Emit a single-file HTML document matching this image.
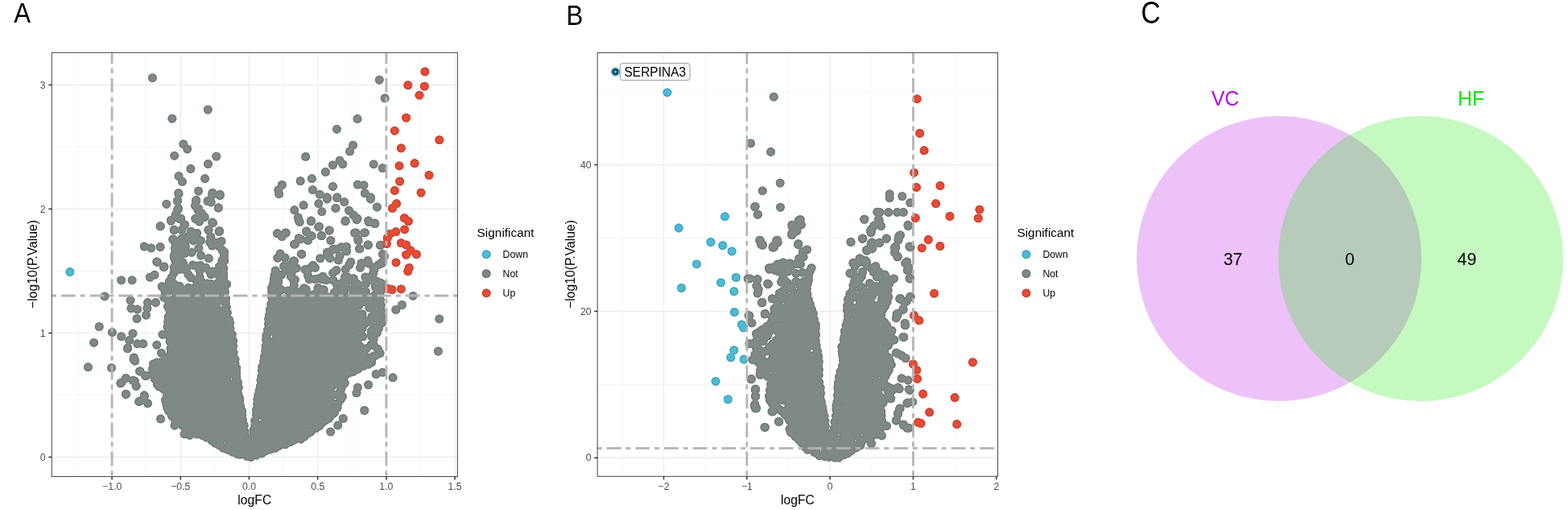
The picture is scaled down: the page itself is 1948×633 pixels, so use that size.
<!DOCTYPE html><html><head><meta charset="utf-8"><style>html,body{margin:0;padding:0;background:#fff;}svg{display:block;}</style></head><body>
<svg width="1948" height="633" viewBox="0 0 1948 633" font-family='"Liberation Sans", Arial, sans-serif'>
<defs><filter id="ring" x="0" y="0" width="1" height="1" color-interpolation-filters="sRGB"><feMorphology in="SourceAlpha" operator="erode" radius="0.9" result="e"/><feComponentTransfer in="SourceGraphic" result="d"><feFuncR type="linear" slope="0.87"/><feFuncG type="linear" slope="0.87"/><feFuncB type="linear" slope="0.87"/></feComponentTransfer><feComposite in="d" in2="e" operator="out" result="r"/><feMerge><feMergeNode in="SourceGraphic"/><feMergeNode in="r"/></feMerge></filter></defs>
<rect width="1948" height="633" fill="#fff"/>
<line x1="96.5" y1="65.3" x2="96.5" y2="591.5" stroke="#f0f0f0" stroke-width="0.7"/><line x1="181.7" y1="65.3" x2="181.7" y2="591.5" stroke="#f0f0f0" stroke-width="0.7"/><line x1="266.9" y1="65.3" x2="266.9" y2="591.5" stroke="#f0f0f0" stroke-width="0.7"/><line x1="352.1" y1="65.3" x2="352.1" y2="591.5" stroke="#f0f0f0" stroke-width="0.7"/><line x1="437.3" y1="65.3" x2="437.3" y2="591.5" stroke="#f0f0f0" stroke-width="0.7"/><line x1="522.5" y1="65.3" x2="522.5" y2="591.5" stroke="#f0f0f0" stroke-width="0.7"/><line x1="64.3" y1="490.4" x2="568.4" y2="490.4" stroke="#f0f0f0" stroke-width="0.7"/><line x1="64.3" y1="336.4" x2="568.4" y2="336.4" stroke="#f0f0f0" stroke-width="0.7"/><line x1="64.3" y1="182.4" x2="568.4" y2="182.4" stroke="#f0f0f0" stroke-width="0.7"/><line x1="139.1" y1="65.3" x2="139.1" y2="591.5" stroke="#ebebeb" stroke-width="1.2"/><line x1="224.3" y1="65.3" x2="224.3" y2="591.5" stroke="#ebebeb" stroke-width="1.2"/><line x1="309.5" y1="65.3" x2="309.5" y2="591.5" stroke="#ebebeb" stroke-width="1.2"/><line x1="394.7" y1="65.3" x2="394.7" y2="591.5" stroke="#ebebeb" stroke-width="1.2"/><line x1="479.9" y1="65.3" x2="479.9" y2="591.5" stroke="#ebebeb" stroke-width="1.2"/><line x1="565.1" y1="65.3" x2="565.1" y2="591.5" stroke="#ebebeb" stroke-width="1.2"/><line x1="64.3" y1="567.4" x2="568.4" y2="567.4" stroke="#ebebeb" stroke-width="1.2"/><line x1="64.3" y1="413.4" x2="568.4" y2="413.4" stroke="#ebebeb" stroke-width="1.2"/><line x1="64.3" y1="259.4" x2="568.4" y2="259.4" stroke="#ebebeb" stroke-width="1.2"/><line x1="64.3" y1="105.4" x2="568.4" y2="105.4" stroke="#ebebeb" stroke-width="1.2"/>
<g filter="url(#ring)">
<g fill="#7f8985"><path d="M213.8 360.4 L213.6 373.5 L217.3 382.3 L217.7 383.3 L217.9 384.4 L218.1 385.5 L218.2 386.6 L218.2 387.7 L218 388.8 L215.6 403.9 L219.4 424.5 L219.5 425.6 L219.6 426.7 L219.6 438.1 L219.5 439.3 L219.3 440.6 L219 441.8 L218.6 443 L218 444.1 L217.3 445.1 L216.5 446.1 L215.7 447 L212.8 449.6 L212.4 481 L212.8 481.4 L213.5 482.4 L214.2 483.4 L214.7 484.5 L215.1 485.7 L215.4 486.9 L215.6 488.1 L215.6 489.3 L215.5 490.6 L215.3 491.8 L215 492.9 L213.3 497.9 L214.8 505.5 L220.7 513.6 L229.5 520.6 L230.6 521.7 L234.6 525.7 L242.8 528.9 L242.9 528.9 L256.3 534.2 L257.2 534.6 L258.1 535.1 L271.5 543.2 L284.1 550.7 L296.1 555.6 L309.3 559.4 L320.8 555.6 L333.8 550.4 L334.1 550.3 L355.6 542.3 L356 542.1 L370.4 537.3 L382.3 529 L392.9 521.1 L403.4 513.2 L408.9 508.6 L413 498.1 L413.6 496.9 L414.2 495.8 L416.7 492.2 L415.3 486.6 L415 485.5 L414.9 484.4 L414.9 483.3 L415 482.2 L415.2 481.1 L415.5 480 L415.9 478.9 L416.4 477.9 L417 476.9 L417.7 476 L418.4 475.2 L418.6 475 L418.5 474.9 L418.1 473.8 L417.8 472.6 L417.7 471.4 L417.6 470.2 L417.7 469 L417.8 467.9 L418.2 466.7 L418.6 465.6 L419.1 464.5 L419.7 463.5 L420.5 462.5 L421.3 461.7 L422.2 460.9 L423.2 460.2 L424.2 459.6 L434.9 454.2 L445.6 448.8 L446 448.6 L446 380 L465.3 380 L463.6 370.7 L463.4 369.6 L463.4 368.4 L463.5 367.3 L463.5 367.2 L460 368 L440 362 L420 370 L400 362 L380 372 L360 365 L344.9 368 L344.7 376.2 L344.5 377.9 L342.1 393.1 L338.4 417.7 L337.7 430.6 L337.6 431.8 L333.6 458.6 L329.6 485.3 L325.6 517.4 L325.6 517.6 L321.5 545.7 L321.2 546.9 L320.9 548 L320.5 549.1 L319.9 550.2 L319.2 551.1 L318.5 552.1 L317.7 552.9 L316.7 553.6 L315.8 554.3 L314.7 554.9 L313.6 555.3 L312.5 555.6 L311.3 555.9 L310.2 556 L309 556 L307.8 555.9 L306.7 555.6 L305.5 555.3 L304.4 554.8 L303.4 554.3 L302.4 553.6 L301.5 552.9 L300.7 552 L299.9 551.1 L299.3 550.1 L298.7 549.1 L298.3 548 L297.9 546.9 L297.7 545.7 L293.7 517.7 L288.4 485.7 L288.3 484.9 L285.7 458.1 L282.1 428.6 L278.2 403.1 L274.2 383.4 L274.1 382.6 L270.4 355.9 L270 356 L250 350 L230 358 L216.5 355.3 L213.8 360.4Z" fill-rule="evenodd"/></g><g fill="#7f8985"><circle cx="218" cy="302.3" r="5.4"/><circle cx="217.6" cy="307.5" r="5.4"/><circle cx="217.3" cy="315" r="5.4"/><circle cx="218.1" cy="324.5" r="5.4"/><circle cx="216.2" cy="332" r="5.4"/><circle cx="216" cy="338.6" r="5.4"/><circle cx="213.2" cy="344.4" r="5.4"/><circle cx="210.2" cy="349.5" r="5.4"/><circle cx="207" cy="355.9" r="5.4"/><circle cx="205" cy="362.1" r="5.4"/><circle cx="203.5" cy="369" r="5.4"/><circle cx="208.5" cy="380.3" r="5.4"/><circle cx="211.1" cy="386.8" r="5.4"/><circle cx="209.1" cy="393.7" r="5.4"/><circle cx="208.7" cy="399.4" r="5.4"/><circle cx="208" cy="405.9" r="5.4"/><circle cx="209.3" cy="413" r="5.4"/><circle cx="210.6" cy="418.3" r="5.4"/><circle cx="211" cy="424" r="5.4"/><circle cx="212" cy="432.5" r="5.4"/><circle cx="212.6" cy="437.3" r="5.4"/><circle cx="209.4" cy="443.1" r="5.4"/><circle cx="206.5" cy="446" r="5.4"/><circle cx="200.3" cy="449.4" r="5.4"/><circle cx="194.9" cy="450" r="5.4"/><circle cx="190.5" cy="451.8" r="5.4"/><circle cx="189.6" cy="457.7" r="5.4"/><circle cx="189.8" cy="463.1" r="5.4"/><circle cx="192.5" cy="470.4" r="5.4"/><circle cx="195.3" cy="476.8" r="5.4"/><circle cx="197.7" cy="479.9" r="5.4"/><circle cx="202.9" cy="482.6" r="5.4"/><circle cx="206.4" cy="485.3" r="5.4"/><circle cx="207.5" cy="490.5" r="5.4"/><circle cx="205.4" cy="496.5" r="5.4"/><circle cx="206.9" cy="501.7" r="5.4"/><circle cx="207.8" cy="506" r="5.4"/><circle cx="209.5" cy="510.3" r="5.4"/><circle cx="213.6" cy="516.5" r="5.4"/><circle cx="217.5" cy="520.8" r="5.4"/><circle cx="221.3" cy="524.5" r="5.4"/><circle cx="226.3" cy="527.8" r="5.4"/><circle cx="230.3" cy="532.3" r="5.4"/><circle cx="239" cy="535.1" r="5.4"/><circle cx="245.1" cy="538.9" r="5.4"/><circle cx="251.8" cy="540.4" r="5.4"/><circle cx="256.6" cy="542.1" r="5.4"/><circle cx="263" cy="546.8" r="5.4"/><circle cx="267.3" cy="550" r="5.4"/><circle cx="272.7" cy="552.6" r="5.4"/><circle cx="277.1" cy="556" r="5.4"/><circle cx="282.4" cy="557.9" r="5.4"/><circle cx="288.9" cy="561" r="5.4"/><circle cx="295.1" cy="563.7" r="5.4"/><circle cx="298.4" cy="564.1" r="5.4"/><circle cx="307" cy="566.4" r="5.4"/><circle cx="311.8" cy="567.3" r="5.4"/><circle cx="318.6" cy="565" r="5.4"/><circle cx="325.4" cy="562.8" r="5.4"/><circle cx="330.7" cy="559.4" r="5.4"/><circle cx="335.7" cy="557.7" r="5.4"/><circle cx="341.9" cy="556.2" r="5.4"/><circle cx="346.9" cy="553.3" r="5.4"/><circle cx="354.4" cy="551.7" r="5.4"/><circle cx="360.8" cy="548.5" r="5.4"/><circle cx="365.3" cy="546.2" r="5.4"/><circle cx="373.6" cy="545" r="5.4"/><circle cx="378.1" cy="541.9" r="5.4"/><circle cx="382.8" cy="537.6" r="5.4"/><circle cx="386.2" cy="535.9" r="5.4"/><circle cx="392.5" cy="531.4" r="5.4"/><circle cx="396.7" cy="528.7" r="5.4"/><circle cx="400.1" cy="524.8" r="5.4"/><circle cx="404.4" cy="521.8" r="5.4"/><circle cx="408.8" cy="519.2" r="5.4"/><circle cx="411.2" cy="515.8" r="5.4"/><circle cx="415.6" cy="511.6" r="5.4"/><circle cx="419.1" cy="506.1" r="5.4"/><circle cx="420.1" cy="500.3" r="5.4"/><circle cx="423.4" cy="495.6" r="5.4"/><circle cx="425.4" cy="492.1" r="5.4"/><circle cx="422.9" cy="485.7" r="5.4"/><circle cx="423.9" cy="482.2" r="5.4"/><circle cx="428.1" cy="475.3" r="5.4"/><circle cx="426.1" cy="470.6" r="5.4"/><circle cx="429.7" cy="465.2" r="5.4"/><circle cx="434.8" cy="462.3" r="5.4"/><circle cx="439" cy="461.3" r="5.4"/><circle cx="445" cy="458" r="5.4"/><circle cx="451.5" cy="454.2" r="5.4"/><circle cx="457.7" cy="452.1" r="5.4"/><circle cx="461.7" cy="449.8" r="5.4"/><circle cx="462.9" cy="443.9" r="5.4"/><circle cx="467.2" cy="440.6" r="5.4"/><circle cx="472.1" cy="438.4" r="5.4"/><circle cx="469.4" cy="433.2" r="5.4"/><circle cx="464.4" cy="428.6" r="5.4"/><circle cx="464.2" cy="420.9" r="5.4"/><circle cx="468.3" cy="413.2" r="5.4"/><circle cx="470.5" cy="407.4" r="5.4"/><circle cx="474.6" cy="400.6" r="5.4"/><circle cx="474.1" cy="392.9" r="5.4"/><circle cx="473.3" cy="385.7" r="5.4"/><circle cx="473.3" cy="378.7" r="5.4"/><circle cx="472.3" cy="372.2" r="5.4"/><circle cx="471.2" cy="366.1" r="5.4"/><circle cx="472.6" cy="362.2" r="5.4"/><circle cx="473" cy="356.9" r="5.4"/><circle cx="474.2" cy="352" r="5.4"/><circle cx="468" cy="349.1" r="5.4"/><circle cx="463.3" cy="346.6" r="5.4"/><circle cx="463.6" cy="339.5" r="5.4"/><circle cx="464.8" cy="335" r="5.4"/><circle cx="470.4" cy="328.6" r="5.4"/><circle cx="474.1" cy="326" r="5.4"/><circle cx="456.9" cy="323.5" r="5.4"/><circle cx="435.8" cy="325.1" r="5.4"/><circle cx="430.6" cy="311.9" r="5.4"/><circle cx="430.5" cy="306.2" r="5.4"/><circle cx="424.2" cy="306.6" r="5.4"/><circle cx="406.6" cy="313.1" r="5.4"/><circle cx="397.8" cy="320.6" r="5.4"/><circle cx="388.9" cy="329.4" r="5.4"/><circle cx="385.3" cy="332.8" r="5.4"/><circle cx="379.1" cy="334.5" r="5.4"/><circle cx="368.4" cy="332.8" r="5.4"/><circle cx="364.4" cy="328.6" r="5.4"/><circle cx="354.1" cy="319.9" r="5.4"/><circle cx="348.1" cy="314.9" r="5.4"/><circle cx="344.8" cy="320.1" r="5.4"/><circle cx="342.2" cy="335.8" r="5.4"/><circle cx="341.2" cy="341.3" r="5.4"/><circle cx="340.7" cy="345.4" r="5.4"/><circle cx="339.8" cy="351.4" r="5.4"/><circle cx="337.6" cy="357.3" r="5.4"/><circle cx="337.9" cy="364" r="5.4"/><circle cx="337.9" cy="369.7" r="5.4"/><circle cx="336.7" cy="377.5" r="5.4"/><circle cx="335.3" cy="384.5" r="5.4"/><circle cx="334.6" cy="391.3" r="5.4"/><circle cx="333.7" cy="395.9" r="5.4"/><circle cx="333.5" cy="402" r="5.4"/><circle cx="332.6" cy="409.3" r="5.4"/><circle cx="331.4" cy="415.3" r="5.4"/><circle cx="330.7" cy="421.6" r="5.4"/><circle cx="330.3" cy="429.2" r="5.4"/><circle cx="329.8" cy="436.1" r="5.4"/><circle cx="328.3" cy="442.7" r="5.4"/><circle cx="327.7" cy="448.9" r="5.4"/><circle cx="325.8" cy="455.2" r="5.4"/><circle cx="325.4" cy="460" r="5.4"/><circle cx="324.9" cy="466.8" r="5.4"/><circle cx="324" cy="471.9" r="5.4"/><circle cx="323.5" cy="479.2" r="5.4"/><circle cx="322.2" cy="484.9" r="5.4"/><circle cx="320.8" cy="490.5" r="5.4"/><circle cx="319.9" cy="495.8" r="5.4"/><circle cx="319.6" cy="501.6" r="5.4"/><circle cx="318.4" cy="508.8" r="5.4"/><circle cx="318.6" cy="515.2" r="5.4"/><circle cx="316.7" cy="522.2" r="5.4"/><circle cx="316.9" cy="527.7" r="5.4"/><circle cx="315.2" cy="533.5" r="5.4"/><circle cx="315.2" cy="538.9" r="5.4"/><circle cx="312.9" cy="546.7" r="5.4"/><circle cx="307.7" cy="548.1" r="5.4"/><circle cx="305.3" cy="542.6" r="5.4"/><circle cx="303.9" cy="536" r="5.4"/><circle cx="303.2" cy="528" r="5.4"/><circle cx="301.5" cy="521.5" r="5.4"/><circle cx="300.9" cy="515.5" r="5.4"/><circle cx="300.6" cy="510.2" r="5.4"/><circle cx="298.7" cy="504.2" r="5.4"/><circle cx="297.6" cy="497.7" r="5.4"/><circle cx="297.6" cy="494.2" r="5.4"/><circle cx="295.9" cy="488.8" r="5.4"/><circle cx="296.4" cy="481.3" r="5.4"/><circle cx="295.6" cy="474.9" r="5.4"/><circle cx="293.8" cy="468.4" r="5.4"/><circle cx="293.6" cy="461.9" r="5.4"/><circle cx="293.8" cy="457" r="5.4"/><circle cx="292" cy="451" r="5.4"/><circle cx="292" cy="445.7" r="5.4"/><circle cx="290.1" cy="437.6" r="5.4"/><circle cx="289.7" cy="429.4" r="5.4"/><circle cx="289.7" cy="423" r="5.4"/><circle cx="288.3" cy="415.1" r="5.4"/><circle cx="285.9" cy="407.5" r="5.4"/><circle cx="284.9" cy="401.1" r="5.4"/><circle cx="284.6" cy="397" r="5.4"/><circle cx="282.4" cy="388.2" r="5.4"/><circle cx="281" cy="381.3" r="5.4"/><circle cx="280.4" cy="376" r="5.4"/><circle cx="280.5" cy="370.4" r="5.4"/><circle cx="279.4" cy="362.5" r="5.4"/><circle cx="279" cy="356.3" r="5.4"/><circle cx="278.4" cy="350.9" r="5.4"/><circle cx="277.8" cy="345.1" r="5.4"/><circle cx="277.5" cy="339.8" r="5.4"/><circle cx="277.9" cy="333.1" r="5.4"/><circle cx="278.4" cy="317.9" r="5.4"/><circle cx="272.1" cy="305.6" r="5.4"/><circle cx="268.3" cy="301.2" r="5.4"/><circle cx="260.7" cy="300.8" r="5.4"/><circle cx="249.4" cy="298.6" r="5.4"/><circle cx="245.3" cy="297" r="5.4"/><circle cx="240.5" cy="296.1" r="5.4"/><circle cx="232.5" cy="294.1" r="5.4"/><circle cx="226" cy="296" r="5.4"/><circle cx="219.3" cy="299.9" r="5.4"/><circle cx="230.6" cy="298.1" r="5.4"/><circle cx="240.2" cy="298.6" r="5.4"/><circle cx="243.3" cy="296.7" r="5.4"/><circle cx="220.6" cy="304.7" r="5.4"/><circle cx="227.4" cy="303.9" r="5.4"/><circle cx="230.3" cy="305.4" r="5.4"/><circle cx="263.5" cy="305" r="5.4"/><circle cx="227" cy="311.8" r="5.4"/><circle cx="230.9" cy="311.7" r="5.4"/><circle cx="238.2" cy="313.3" r="5.4"/><circle cx="246.9" cy="308.1" r="5.4"/><circle cx="276.1" cy="310.5" r="5.4"/><circle cx="409.2" cy="313.2" r="5.4"/><circle cx="413.6" cy="309.5" r="5.4"/><circle cx="417.8" cy="309.1" r="5.4"/><circle cx="219.8" cy="314.2" r="5.4"/><circle cx="226.6" cy="314.6" r="5.4"/><circle cx="230.1" cy="314.2" r="5.4"/><circle cx="249.7" cy="317.2" r="5.4"/><circle cx="406.4" cy="316.7" r="5.4"/><circle cx="422.1" cy="317.8" r="5.4"/><circle cx="227.1" cy="325.7" r="5.4"/><circle cx="259.4" cy="320.7" r="5.4"/><circle cx="410" cy="320.5" r="5.4"/><circle cx="420.4" cy="322.9" r="5.4"/><circle cx="449" cy="326.6" r="5.4"/><circle cx="221.7" cy="328.4" r="5.4"/><circle cx="228.1" cy="328.9" r="5.4"/><circle cx="239.5" cy="329" r="5.4"/><circle cx="244.3" cy="330.1" r="5.4"/><circle cx="249" cy="329.5" r="5.4"/><circle cx="255.7" cy="332.2" r="5.4"/><circle cx="272.5" cy="330.9" r="5.4"/><circle cx="276.1" cy="327.8" r="5.4"/><circle cx="352.7" cy="330.4" r="5.4"/><circle cx="359.9" cy="329.4" r="5.4"/><circle cx="391.5" cy="332.3" r="5.4"/><circle cx="434" cy="328.5" r="5.4"/><circle cx="447.5" cy="332.2" r="5.4"/><circle cx="457.5" cy="326.9" r="5.4"/><circle cx="463.7" cy="331.8" r="5.4"/><circle cx="218.1" cy="335.2" r="5.4"/><circle cx="227.3" cy="334.2" r="5.4"/><circle cx="231.3" cy="333.7" r="5.4"/><circle cx="247.3" cy="334" r="5.4"/><circle cx="248.2" cy="336.1" r="5.4"/><circle cx="260.6" cy="337.3" r="5.4"/><circle cx="264.2" cy="336.8" r="5.4"/><circle cx="355.7" cy="335.4" r="5.4"/><circle cx="362.2" cy="338.9" r="5.4"/><circle cx="413.6" cy="338.7" r="5.4"/><circle cx="417.9" cy="335.5" r="5.4"/><circle cx="429.2" cy="334.3" r="5.4"/><circle cx="234" cy="340.8" r="5.4"/><circle cx="237.2" cy="344.7" r="5.4"/><circle cx="248.1" cy="343.7" r="5.4"/><circle cx="262.2" cy="340.6" r="5.4"/><circle cx="271.2" cy="340.7" r="5.4"/><circle cx="342.1" cy="342.3" r="5.4"/><circle cx="349.6" cy="341.2" r="5.4"/><circle cx="361.2" cy="343" r="5.4"/><circle cx="382.5" cy="342.1" r="5.4"/><circle cx="397.1" cy="345.3" r="5.4"/><circle cx="401" cy="343.1" r="5.4"/><circle cx="428.6" cy="343.8" r="5.4"/><circle cx="431.9" cy="343.8" r="5.4"/><circle cx="439.4" cy="345.7" r="5.4"/><circle cx="453.9" cy="344" r="5.4"/><circle cx="458.7" cy="344.1" r="5.4"/><circle cx="216.2" cy="352.8" r="5.4"/><circle cx="244.7" cy="350.1" r="5.4"/><circle cx="249.8" cy="349.1" r="5.4"/><circle cx="257.4" cy="352" r="5.4"/><circle cx="262.2" cy="352.5" r="5.4"/><circle cx="271.4" cy="350.5" r="5.4"/><circle cx="276.4" cy="347.8" r="5.4"/><circle cx="340.7" cy="346.5" r="5.4"/><circle cx="345.9" cy="349.6" r="5.4"/><circle cx="364.8" cy="348.1" r="5.4"/><circle cx="366.4" cy="347.1" r="5.4"/><circle cx="384.2" cy="346.8" r="5.4"/><circle cx="391.3" cy="346.4" r="5.4"/><circle cx="399.5" cy="346.5" r="5.4"/><circle cx="405.3" cy="347.7" r="5.4"/><circle cx="414" cy="348" r="5.4"/><circle cx="418.3" cy="352.2" r="5.4"/><circle cx="427" cy="349.3" r="5.4"/><circle cx="432.5" cy="346.5" r="5.4"/><circle cx="440.5" cy="351.3" r="5.4"/><circle cx="444" cy="352.3" r="5.4"/><circle cx="454.5" cy="352.1" r="5.4"/><circle cx="461.3" cy="347.4" r="5.4"/><circle cx="464.2" cy="348.6" r="5.4"/><circle cx="471.8" cy="351.5" r="5.4"/><circle cx="208.6" cy="358.2" r="5.4"/><circle cx="210.7" cy="354.5" r="5.4"/><circle cx="217" cy="353.1" r="5.4"/><circle cx="223.1" cy="355.2" r="5.4"/><circle cx="234.1" cy="357.2" r="5.4"/><circle cx="238.9" cy="358.5" r="5.4"/><circle cx="243.9" cy="355.7" r="5.4"/><circle cx="264.8" cy="353.6" r="5.4"/><circle cx="272.6" cy="358.6" r="5.4"/><circle cx="277.3" cy="358.9" r="5.4"/><circle cx="342.9" cy="354.4" r="5.4"/><circle cx="346.5" cy="358.4" r="5.4"/><circle cx="364.3" cy="358.4" r="5.4"/><circle cx="365.3" cy="354.1" r="5.4"/><circle cx="377.8" cy="357.6" r="5.4"/><circle cx="380.2" cy="359.1" r="5.4"/><circle cx="395" cy="357.2" r="5.4"/><circle cx="398.2" cy="359.1" r="5.4"/><circle cx="419" cy="355.5" r="5.4"/><circle cx="423.7" cy="359" r="5.4"/><circle cx="429.9" cy="353.5" r="5.4"/><circle cx="438.8" cy="358.7" r="5.4"/><circle cx="444.4" cy="354.9" r="5.4"/><circle cx="466.2" cy="356" r="5.4"/><circle cx="471.2" cy="355.7" r="5.4"/><circle cx="209.2" cy="361.7" r="5.4"/><circle cx="229.7" cy="361.6" r="5.4"/><circle cx="271" cy="360.3" r="5.4"/><circle cx="274.3" cy="361.5" r="5.4"/><circle cx="337.8" cy="361" r="5.4"/><circle cx="342.1" cy="365.6" r="5.4"/><circle cx="349.5" cy="359.7" r="5.4"/><circle cx="357.9" cy="360.8" r="5.4"/><circle cx="362.6" cy="363.1" r="5.4"/><circle cx="368.8" cy="363.8" r="5.4"/><circle cx="373.7" cy="362" r="5.4"/><circle cx="381.6" cy="365.1" r="5.4"/><circle cx="392.5" cy="364.1" r="5.4"/><circle cx="402.2" cy="359.6" r="5.4"/><circle cx="415.5" cy="363" r="5.4"/><circle cx="417" cy="363" r="5.4"/><circle cx="428.2" cy="360.5" r="5.4"/><circle cx="439.2" cy="363.9" r="5.4"/><circle cx="447.2" cy="361.4" r="5.4"/><circle cx="454.3" cy="361.7" r="5.4"/><circle cx="466.1" cy="365.7" r="5.4"/><circle cx="472.1" cy="359.4" r="5.4"/><circle cx="208.8" cy="372.3" r="5.4"/><circle cx="210.6" cy="372.3" r="5.4"/><circle cx="216.6" cy="371.8" r="5.4"/><circle cx="273.8" cy="366.7" r="5.4"/><circle cx="276.4" cy="370.1" r="5.4"/><circle cx="338.7" cy="368.8" r="5.4"/><circle cx="344.8" cy="370.9" r="5.4"/><circle cx="346.5" cy="369.8" r="5.4"/><circle cx="353.1" cy="370.9" r="5.4"/><circle cx="365.3" cy="371.9" r="5.4"/><circle cx="372.9" cy="371.4" r="5.4"/><circle cx="380.8" cy="371.7" r="5.4"/><circle cx="385" cy="366.2" r="5.4"/><circle cx="396.9" cy="368.9" r="5.4"/><circle cx="400.7" cy="367" r="5.4"/><circle cx="407.4" cy="368.7" r="5.4"/><circle cx="416.2" cy="370.7" r="5.4"/><circle cx="420" cy="366.9" r="5.4"/><circle cx="429.7" cy="369.9" r="5.4"/><circle cx="448.6" cy="366.6" r="5.4"/><circle cx="450.1" cy="366.2" r="5.4"/><circle cx="456.9" cy="368.3" r="5.4"/><circle cx="464.5" cy="367.7" r="5.4"/><circle cx="469" cy="369.1" r="5.4"/><circle cx="210" cy="375.6" r="5.4"/><circle cx="218.4" cy="375.9" r="5.4"/><circle cx="268.9" cy="373.7" r="5.4"/><circle cx="277.7" cy="374" r="5.4"/><circle cx="341.4" cy="378.2" r="5.4"/><circle cx="376" cy="374.3" r="5.4"/><circle cx="467.5" cy="377" r="5.4"/><circle cx="470.9" cy="373.3" r="5.4"/><circle cx="209.5" cy="382.3" r="5.4"/><circle cx="216.3" cy="381.2" r="5.4"/><circle cx="222.8" cy="384.7" r="5.4"/><circle cx="279.2" cy="383.9" r="5.4"/><circle cx="281.1" cy="381.5" r="5.4"/><circle cx="339" cy="383.2" r="5.4"/><circle cx="348.3" cy="382.9" r="5.4"/><circle cx="446" cy="379.1" r="5.4"/><circle cx="458.7" cy="381.9" r="5.4"/><circle cx="463" cy="382.4" r="5.4"/><circle cx="211.7" cy="385.8" r="5.4"/><circle cx="221" cy="387.8" r="5.4"/><circle cx="222.5" cy="386.1" r="5.4"/><circle cx="275.7" cy="389.4" r="5.4"/><circle cx="336.7" cy="388.1" r="5.4"/><circle cx="343.3" cy="389.3" r="5.4"/><circle cx="449.1" cy="389.9" r="5.4"/><circle cx="450.1" cy="389.8" r="5.4"/><circle cx="465.3" cy="389.4" r="5.4"/><circle cx="472.7" cy="389.8" r="5.4"/><circle cx="216" cy="394.2" r="5.4"/><circle cx="272.6" cy="393.1" r="5.4"/><circle cx="278.9" cy="392.1" r="5.4"/><circle cx="284.5" cy="397.2" r="5.4"/><circle cx="336.9" cy="398.3" r="5.4"/><circle cx="342.3" cy="392.6" r="5.4"/><circle cx="448.7" cy="394.7" r="5.4"/><circle cx="452.1" cy="396.8" r="5.4"/><circle cx="462" cy="392.8" r="5.4"/><circle cx="464.3" cy="395.9" r="5.4"/><circle cx="470.2" cy="393.7" r="5.4"/><circle cx="214" cy="404.5" r="5.4"/><circle cx="221.2" cy="398.5" r="5.4"/><circle cx="275.4" cy="398.6" r="5.4"/><circle cx="285.6" cy="401.1" r="5.4"/><circle cx="337.9" cy="399.5" r="5.4"/><circle cx="343" cy="404.1" r="5.4"/><circle cx="447.4" cy="400.4" r="5.4"/><circle cx="453.5" cy="401.7" r="5.4"/><circle cx="458.8" cy="398.9" r="5.4"/><circle cx="463.9" cy="401.8" r="5.4"/><circle cx="214.8" cy="406.6" r="5.4"/><circle cx="217.7" cy="406.8" r="5.4"/><circle cx="280.6" cy="406.4" r="5.4"/><circle cx="335.9" cy="410.6" r="5.4"/><circle cx="342.3" cy="408.4" r="5.4"/><circle cx="446.3" cy="408.4" r="5.4"/><circle cx="450" cy="408" r="5.4"/><circle cx="461.3" cy="410.7" r="5.4"/><circle cx="467.6" cy="410.3" r="5.4"/><circle cx="213.2" cy="417.1" r="5.4"/><circle cx="215.8" cy="413.6" r="5.4"/><circle cx="279.1" cy="411.9" r="5.4"/><circle cx="283.1" cy="415.2" r="5.4"/><circle cx="287.3" cy="416.3" r="5.4"/><circle cx="330.9" cy="416.9" r="5.4"/><circle cx="333.2" cy="412.5" r="5.4"/><circle cx="343.3" cy="416" r="5.4"/><circle cx="450.9" cy="417.7" r="5.4"/><circle cx="461.4" cy="416" r="5.4"/><circle cx="219.8" cy="424.2" r="5.4"/><circle cx="277.2" cy="421.2" r="5.4"/><circle cx="281.5" cy="424.3" r="5.4"/><circle cx="334.1" cy="423.6" r="5.4"/><circle cx="339.9" cy="424.4" r="5.4"/><circle cx="445.7" cy="419.6" r="5.4"/><circle cx="462.2" cy="418.3" r="5.4"/><circle cx="220.4" cy="426.3" r="5.4"/><circle cx="285.4" cy="430.3" r="5.4"/><circle cx="333.1" cy="427" r="5.4"/><circle cx="340.5" cy="429.1" r="5.4"/><circle cx="442.3" cy="429.4" r="5.4"/><circle cx="446.8" cy="429.3" r="5.4"/><circle cx="461.1" cy="427.7" r="5.4"/><circle cx="215" cy="433.6" r="5.4"/><circle cx="216.3" cy="432" r="5.4"/><circle cx="224.4" cy="437.3" r="5.4"/><circle cx="282" cy="430.9" r="5.4"/><circle cx="287.7" cy="435.3" r="5.4"/><circle cx="330.2" cy="431.2" r="5.4"/><circle cx="335.1" cy="436.2" r="5.4"/><circle cx="339.6" cy="436.4" r="5.4"/><circle cx="442.5" cy="436" r="5.4"/><circle cx="445.9" cy="431.6" r="5.4"/><circle cx="455.6" cy="432.3" r="5.4"/><circle cx="214.9" cy="438.3" r="5.4"/><circle cx="216.8" cy="441.4" r="5.4"/><circle cx="223.4" cy="442.8" r="5.4"/><circle cx="279.5" cy="443.9" r="5.4"/><circle cx="285.4" cy="438.3" r="5.4"/><circle cx="334.5" cy="442.2" r="5.4"/><circle cx="448.1" cy="442.9" r="5.4"/><circle cx="452.4" cy="439.6" r="5.4"/><circle cx="463.5" cy="442.3" r="5.4"/><circle cx="206.2" cy="449.4" r="5.4"/><circle cx="214.9" cy="447.1" r="5.4"/><circle cx="218" cy="449" r="5.4"/><circle cx="284.1" cy="447.1" r="5.4"/><circle cx="288.6" cy="445.8" r="5.4"/><circle cx="338.7" cy="445.9" r="5.4"/><circle cx="448.8" cy="450.4" r="5.4"/><circle cx="453.2" cy="447.1" r="5.4"/><circle cx="459.2" cy="444.5" r="5.4"/><circle cx="195.5" cy="456.8" r="5.4"/><circle cx="196.4" cy="454.5" r="5.4"/><circle cx="203.8" cy="455.4" r="5.4"/><circle cx="210.6" cy="450.9" r="5.4"/><circle cx="284.5" cy="453.8" r="5.4"/><circle cx="291.6" cy="451.8" r="5.4"/><circle cx="328.6" cy="451.4" r="5.4"/><circle cx="333" cy="453.3" r="5.4"/><circle cx="425.1" cy="454.5" r="5.4"/><circle cx="432.3" cy="455.4" r="5.4"/><circle cx="442" cy="455.1" r="5.4"/><circle cx="193.2" cy="457.8" r="5.4"/><circle cx="197.6" cy="461.9" r="5.4"/><circle cx="208" cy="457.1" r="5.4"/><circle cx="208.9" cy="461.4" r="5.4"/><circle cx="284.3" cy="457.6" r="5.4"/><circle cx="288.4" cy="461.4" r="5.4"/><circle cx="329.5" cy="458.1" r="5.4"/><circle cx="335.7" cy="461.3" r="5.4"/><circle cx="420.1" cy="458.2" r="5.4"/><circle cx="427.8" cy="458.5" r="5.4"/><circle cx="431.1" cy="460.9" r="5.4"/><circle cx="193" cy="467.1" r="5.4"/><circle cx="201.9" cy="467" r="5.4"/><circle cx="208.1" cy="468.2" r="5.4"/><circle cx="211.8" cy="467" r="5.4"/><circle cx="283.1" cy="464.8" r="5.4"/><circle cx="292.3" cy="466.6" r="5.4"/><circle cx="293.8" cy="464.7" r="5.4"/><circle cx="326.6" cy="466.7" r="5.4"/><circle cx="420.2" cy="467.9" r="5.4"/><circle cx="426.7" cy="463.8" r="5.4"/><circle cx="197.4" cy="475.8" r="5.4"/><circle cx="213.8" cy="473.9" r="5.4"/><circle cx="216" cy="473.3" r="5.4"/><circle cx="292.3" cy="474" r="5.4"/><circle cx="294" cy="475.1" r="5.4"/><circle cx="332.2" cy="470.2" r="5.4"/><circle cx="332.5" cy="471.1" r="5.4"/><circle cx="417.9" cy="475" r="5.4"/><circle cx="428" cy="475.9" r="5.4"/><circle cx="203.2" cy="476.6" r="5.4"/><circle cx="210.7" cy="476.4" r="5.4"/><circle cx="288.5" cy="481" r="5.4"/><circle cx="328" cy="478.6" r="5.4"/><circle cx="333.2" cy="481.6" r="5.4"/><circle cx="412.5" cy="479.7" r="5.4"/><circle cx="420.8" cy="476.8" r="5.4"/><circle cx="212.6" cy="484.5" r="5.4"/><circle cx="218.4" cy="483.2" r="5.4"/><circle cx="291.1" cy="486.5" r="5.4"/><circle cx="294.5" cy="484.4" r="5.4"/><circle cx="327.4" cy="485" r="5.4"/><circle cx="412" cy="488.8" r="5.4"/><circle cx="423" cy="489.2" r="5.4"/><circle cx="207.9" cy="494.1" r="5.4"/><circle cx="214.9" cy="489.5" r="5.4"/><circle cx="217.1" cy="492.6" r="5.4"/><circle cx="288.3" cy="492.7" r="5.4"/><circle cx="323.1" cy="492.2" r="5.4"/><circle cx="328.2" cy="490.8" r="5.4"/><circle cx="418.3" cy="489.9" r="5.4"/><circle cx="424.5" cy="493.3" r="5.4"/><circle cx="213.1" cy="497.9" r="5.4"/><circle cx="286.7" cy="496" r="5.4"/><circle cx="291" cy="499.6" r="5.4"/><circle cx="296.1" cy="501.3" r="5.4"/><circle cx="323.1" cy="496" r="5.4"/><circle cx="328.4" cy="499.1" r="5.4"/><circle cx="412.5" cy="500.2" r="5.4"/><circle cx="209.8" cy="504" r="5.4"/><circle cx="216.3" cy="508.3" r="5.4"/><circle cx="289.1" cy="503.9" r="5.4"/><circle cx="294.4" cy="506.2" r="5.4"/><circle cx="324.1" cy="502.8" r="5.4"/><circle cx="331.2" cy="504.9" r="5.4"/><circle cx="403.9" cy="506.7" r="5.4"/><circle cx="411.3" cy="507.4" r="5.4"/><circle cx="216.2" cy="514.7" r="5.4"/><circle cx="293.3" cy="515.3" r="5.4"/><circle cx="295.3" cy="509.5" r="5.4"/><circle cx="319.1" cy="511.5" r="5.4"/><circle cx="325.7" cy="508.9" r="5.4"/><circle cx="327.8" cy="511.9" r="5.4"/><circle cx="400.3" cy="514.2" r="5.4"/><circle cx="409.6" cy="512.8" r="5.4"/><circle cx="414.4" cy="513.1" r="5.4"/><circle cx="219.3" cy="517.4" r="5.4"/><circle cx="227.1" cy="519.9" r="5.4"/><circle cx="296.9" cy="520.6" r="5.4"/><circle cx="325.1" cy="515.5" r="5.4"/><circle cx="393.6" cy="517" r="5.4"/><circle cx="402.1" cy="516" r="5.4"/><circle cx="220.2" cy="523" r="5.4"/><circle cx="226.7" cy="525.3" r="5.4"/><circle cx="234.6" cy="522.4" r="5.4"/><circle cx="238.3" cy="527.8" r="5.4"/><circle cx="244.8" cy="524.7" r="5.4"/><circle cx="290.8" cy="527.5" r="5.4"/><circle cx="295.7" cy="525.2" r="5.4"/><circle cx="324.2" cy="527.1" r="5.4"/><circle cx="381.8" cy="523.8" r="5.4"/><circle cx="389.6" cy="524.1" r="5.4"/><circle cx="391.7" cy="522.8" r="5.4"/><circle cx="237.1" cy="533.2" r="5.4"/><circle cx="244.6" cy="528.6" r="5.4"/><circle cx="248.4" cy="528.6" r="5.4"/><circle cx="258.1" cy="531" r="5.4"/><circle cx="294.7" cy="533.1" r="5.4"/><circle cx="300.6" cy="533.7" r="5.4"/><circle cx="319.2" cy="529.1" r="5.4"/><circle cx="325.2" cy="530.3" r="5.4"/><circle cx="327.7" cy="529.3" r="5.4"/><circle cx="373.2" cy="529.8" r="5.4"/><circle cx="382.9" cy="532.7" r="5.4"/><circle cx="385.7" cy="534.5" r="5.4"/><circle cx="252.1" cy="537.6" r="5.4"/><circle cx="256.9" cy="537.6" r="5.4"/><circle cx="266.2" cy="540.4" r="5.4"/><circle cx="270.3" cy="539.7" r="5.4"/><circle cx="299" cy="537" r="5.4"/><circle cx="304" cy="535.8" r="5.4"/><circle cx="318" cy="536" r="5.4"/><circle cx="323.7" cy="534.9" r="5.4"/><circle cx="348" cy="540.6" r="5.4"/><circle cx="359.9" cy="540.6" r="5.4"/><circle cx="368" cy="537.4" r="5.4"/><circle cx="373.4" cy="536.8" r="5.4"/><circle cx="378.8" cy="538.6" r="5.4"/><circle cx="385.3" cy="535.8" r="5.4"/><circle cx="256.5" cy="542.9" r="5.4"/><circle cx="261" cy="541.9" r="5.4"/><circle cx="268.5" cy="544.5" r="5.4"/><circle cx="275.4" cy="544.4" r="5.4"/><circle cx="299.3" cy="547.8" r="5.4"/><circle cx="301.1" cy="541.7" r="5.4"/><circle cx="318.8" cy="545.3" r="5.4"/><circle cx="324.7" cy="541.5" r="5.4"/><circle cx="345" cy="543.9" r="5.4"/><circle cx="350.6" cy="546.4" r="5.4"/><circle cx="357.1" cy="543.4" r="5.4"/><circle cx="363.4" cy="544.3" r="5.4"/><circle cx="269.5" cy="548.2" r="5.4"/><circle cx="274.1" cy="549.5" r="5.4"/><circle cx="285.1" cy="551" r="5.4"/><circle cx="291.6" cy="553.8" r="5.4"/><circle cx="296.6" cy="551.7" r="5.4"/><circle cx="301.2" cy="550.2" r="5.4"/><circle cx="311.2" cy="553" r="5.4"/><circle cx="313.8" cy="549.1" r="5.4"/><circle cx="322.4" cy="550.8" r="5.4"/><circle cx="329.9" cy="553.5" r="5.4"/><circle cx="334" cy="548.5" r="5.4"/><circle cx="339.5" cy="549.9" r="5.4"/><circle cx="347.8" cy="548.7" r="5.4"/><circle cx="283.7" cy="558.3" r="5.4"/><circle cx="291.6" cy="555" r="5.4"/><circle cx="299.7" cy="557.8" r="5.4"/><circle cx="304.8" cy="555.7" r="5.4"/><circle cx="309.5" cy="559.4" r="5.4"/><circle cx="314.9" cy="558" r="5.4"/><circle cx="325.1" cy="557.8" r="5.4"/><circle cx="329.3" cy="558.9" r="5.4"/><circle cx="338.4" cy="556.1" r="5.4"/><circle cx="306.6" cy="565.2" r="5.4"/><circle cx="315.4" cy="563.2" r="5.4"/></g>
<g fill="#7f8985"><circle cx="189.4" cy="96.6" r="5.4"/><circle cx="258.3" cy="136.1" r="5.4"/><circle cx="213.9" cy="147.2" r="5.4"/><circle cx="227.8" cy="178.8" r="5.4"/><circle cx="232.7" cy="185" r="5.4"/><circle cx="216.7" cy="193.3" r="5.4"/><circle cx="268.8" cy="194.1" r="5.4"/><circle cx="258.5" cy="203.5" r="5.4"/><circle cx="236.9" cy="209.5" r="5.4"/><circle cx="222.1" cy="218.6" r="5.4"/><circle cx="226.4" cy="225.4" r="5.4"/><circle cx="254.6" cy="221.7" r="5.4"/><circle cx="221.8" cy="239.6" r="5.4"/><circle cx="246.6" cy="237.1" r="5.4"/><circle cx="264" cy="239.3" r="5.4"/><circle cx="273.3" cy="241.3" r="5.4"/><circle cx="206.8" cy="253.3" r="5.4"/><circle cx="220.4" cy="249.6" r="5.4"/><circle cx="243.5" cy="249.6" r="5.4"/><circle cx="258.5" cy="249.6" r="5.4"/><circle cx="262.2" cy="251" r="5.4"/><circle cx="271.3" cy="257.9" r="5.4"/><circle cx="220.7" cy="260.4" r="5.4"/><circle cx="242.6" cy="255.3" r="5.4"/><circle cx="246" cy="261" r="5.4"/><circle cx="212.5" cy="274.1" r="5.4"/><circle cx="219" cy="269.5" r="5.4"/><circle cx="223.3" cy="271.8" r="5.4"/><circle cx="243.2" cy="271.8" r="5.4"/><circle cx="251.7" cy="270.1" r="5.4"/><circle cx="264.5" cy="276.7" r="5.4"/><circle cx="199.1" cy="280.9" r="5.4"/><circle cx="216.2" cy="285.2" r="5.4"/><circle cx="229" cy="279.5" r="5.4"/><circle cx="259.1" cy="285.2" r="5.4"/><circle cx="272.5" cy="286.6" r="5.4"/><circle cx="214.7" cy="297.1" r="5.4"/><circle cx="179.2" cy="306" r="5.4"/><circle cx="187.7" cy="307.9" r="5.4"/><circle cx="199.1" cy="306.5" r="5.4"/><circle cx="217.6" cy="308.8" r="5.4"/><circle cx="228.4" cy="308.5" r="5.4"/><circle cx="275" cy="299.4" r="5.4"/><circle cx="277.3" cy="312.2" r="5.4"/><circle cx="194.8" cy="325" r="5.4"/><circle cx="203.4" cy="331.5" r="5.4"/><circle cx="216.2" cy="317.9" r="5.4"/><circle cx="221.8" cy="322.2" r="5.4"/><circle cx="275.9" cy="323.6" r="5.4"/><circle cx="150.7" cy="347.8" r="5.4"/><circle cx="164.1" cy="347.8" r="5.4"/><circle cx="186.3" cy="344.1" r="5.4"/><circle cx="192" cy="341.2" r="5.4"/><circle cx="221.8" cy="334.4" r="5.4"/><circle cx="275.9" cy="337.8" r="5.4"/><circle cx="222" cy="241" r="5.4"/><circle cx="220.7" cy="249.1" r="5.4"/><circle cx="221.6" cy="258.9" r="5.4"/><circle cx="243.8" cy="248.5" r="5.4"/><circle cx="242.8" cy="255.2" r="5.4"/><circle cx="246.6" cy="258.9" r="5.4"/><circle cx="250.4" cy="264.6" r="5.4"/><circle cx="254.2" cy="269.4" r="5.4"/><circle cx="242.8" cy="271.3" r="5.4"/><circle cx="247.6" cy="275" r="5.4"/><circle cx="258" cy="249.5" r="5.4"/><circle cx="261.8" cy="250.4" r="5.4"/><circle cx="271.3" cy="258" r="5.4"/><circle cx="263.7" cy="241.9" r="5.4"/><circle cx="273.2" cy="242.8" r="5.4"/><circle cx="218.2" cy="266.5" r="5.4"/><circle cx="212.5" cy="273.2" r="5.4"/><circle cx="224.8" cy="271.3" r="5.4"/><circle cx="229.6" cy="278.8" r="5.4"/><circle cx="216.3" cy="285.5" r="5.4"/><circle cx="225.8" cy="285.5" r="5.4"/><circle cx="199.3" cy="280.7" r="5.4"/><circle cx="263.7" cy="276" r="5.4"/><circle cx="258.9" cy="285.5" r="5.4"/><circle cx="272.2" cy="287.4" r="5.4"/><circle cx="261.8" cy="294" r="5.4"/><circle cx="215.4" cy="296.8" r="5.4"/><circle cx="237.2" cy="287.4" r="5.4"/><circle cx="244.7" cy="289.3" r="5.4"/><circle cx="278.8" cy="312.9" r="5.4"/><circle cx="278.8" cy="323.4" r="5.4"/><circle cx="276.9" cy="337.6" r="5.4"/><circle cx="281.7" cy="352.7" r="5.4"/><circle cx="218.2" cy="309.2" r="5.4"/><circle cx="228.6" cy="307.8" r="5.4"/><circle cx="216.3" cy="319.6" r="5.4"/><circle cx="222" cy="323.4" r="5.4"/><circle cx="195.5" cy="325.3" r="5.4"/><circle cx="204" cy="331" r="5.4"/><circle cx="222.9" cy="333.8" r="5.4"/><circle cx="201.2" cy="355.6" r="5.4"/><circle cx="130" cy="367.8" r="5.4"/><circle cx="162.1" cy="372.7" r="5.4"/><circle cx="163" cy="382.6" r="5.4"/><circle cx="170.7" cy="384" r="5.4"/><circle cx="170.1" cy="395.4" r="5.4"/><circle cx="183.5" cy="375.5" r="5.4"/><circle cx="193.4" cy="375.5" r="5.4"/><circle cx="182.9" cy="382.6" r="5.4"/><circle cx="181.5" cy="391.1" r="5.4"/><circle cx="123.2" cy="405.4" r="5.4"/><circle cx="139.4" cy="412.5" r="5.4"/><circle cx="150.7" cy="417.6" r="5.4"/><circle cx="116.6" cy="425.3" r="5.4"/><circle cx="160.7" cy="422.4" r="5.4"/><circle cx="158.7" cy="431.8" r="5.4"/><circle cx="165" cy="413.9" r="5.4"/><circle cx="170.7" cy="426.7" r="5.4"/><circle cx="177.8" cy="426.7" r="5.4"/><circle cx="166.4" cy="443.8" r="5.4"/><circle cx="167.8" cy="448" r="5.4"/><circle cx="109.5" cy="455.7" r="5.4"/><circle cx="138.5" cy="456.6" r="5.4"/><circle cx="173.5" cy="460.8" r="5.4"/><circle cx="180.6" cy="466.5" r="5.4"/><circle cx="150.7" cy="475" r="5.4"/><circle cx="156.4" cy="469.4" r="5.4"/><circle cx="165" cy="472.2" r="5.4"/><circle cx="169.2" cy="479.3" r="5.4"/><circle cx="156.4" cy="489.3" r="5.4"/><circle cx="173.5" cy="497.8" r="5.4"/><circle cx="179.2" cy="490.7" r="5.4"/><circle cx="183.5" cy="500.6" r="5.4"/><circle cx="194.8" cy="428.1" r="5.4"/><circle cx="200.5" cy="438.1" r="5.4"/><circle cx="202" cy="415.3" r="5.4"/><circle cx="149.9" cy="475.6" r="5.4"/><circle cx="167.4" cy="473" r="5.4"/><circle cx="156.6" cy="489.1" r="5.4"/><circle cx="172.7" cy="498.5" r="5.4"/><circle cx="179.4" cy="491.7" r="5.4"/><circle cx="174.1" cy="460.9" r="5.4"/><circle cx="182.1" cy="466.2" r="5.4"/><circle cx="166" cy="446.1" r="5.4"/><circle cx="158.5" cy="432.7" r="5.4"/><circle cx="199.6" cy="519.9" r="5.4"/><circle cx="217" cy="528" r="5.4"/><circle cx="229.1" cy="538.7" r="5.4"/><circle cx="235.8" cy="540.1" r="5.4"/><circle cx="471.3" cy="99.1" r="5.4"/><circle cx="478.1" cy="121.9" r="5.4"/><circle cx="444" cy="147.5" r="5.4"/><circle cx="418.4" cy="160.3" r="5.4"/><circle cx="438.6" cy="180.2" r="5.4"/><circle cx="434.6" cy="187.9" r="5.4"/><circle cx="379.7" cy="194.4" r="5.4"/><circle cx="422.1" cy="199.2" r="5.4"/><circle cx="425.8" cy="203.8" r="5.4"/><circle cx="413.5" cy="204.9" r="5.4"/><circle cx="464.2" cy="203.8" r="5.4"/><circle cx="475.3" cy="208.6" r="5.4"/><circle cx="404.4" cy="213.5" r="5.4"/><circle cx="373.2" cy="224.6" r="5.4"/><circle cx="387.4" cy="221.7" r="5.4"/><circle cx="350.4" cy="229.4" r="5.4"/><circle cx="345.9" cy="235.6" r="5.4"/><circle cx="346.7" cy="240.8" r="5.4"/><circle cx="388.5" cy="235.6" r="5.4"/><circle cx="413.5" cy="231.4" r="5.4"/><circle cx="444.3" cy="229.1" r="5.4"/><circle cx="452" cy="230" r="5.4"/><circle cx="397.3" cy="241.3" r="5.4"/><circle cx="406.4" cy="245" r="5.4"/><circle cx="418.7" cy="245" r="5.4"/><circle cx="453.4" cy="239.9" r="5.4"/><circle cx="460.5" cy="245" r="5.4"/><circle cx="406.4" cy="247" r="5.4"/><circle cx="418.7" cy="245.6" r="5.4"/><circle cx="427.8" cy="250.7" r="5.4"/><circle cx="460.5" cy="247" r="5.4"/><circle cx="468.4" cy="257" r="5.4"/><circle cx="377.1" cy="254.7" r="5.4"/><circle cx="395.9" cy="252.7" r="5.4"/><circle cx="399.9" cy="262.7" r="5.4"/><circle cx="417" cy="258.4" r="5.4"/><circle cx="365.8" cy="260.7" r="5.4"/><circle cx="370.3" cy="269.8" r="5.4"/><circle cx="372.3" cy="275.5" r="5.4"/><circle cx="386.5" cy="274" r="5.4"/><circle cx="396.5" cy="281.1" r="5.4"/><circle cx="429.2" cy="274" r="5.4"/><circle cx="433.5" cy="261.2" r="5.4"/><circle cx="439.1" cy="266.9" r="5.4"/><circle cx="444" cy="271.2" r="5.4"/><circle cx="457.6" cy="274" r="5.4"/><circle cx="465.3" cy="276.9" r="5.4"/><circle cx="344.7" cy="289.7" r="5.4"/><circle cx="355.2" cy="289.1" r="5.4"/><circle cx="380.8" cy="287.7" r="5.4"/><circle cx="409.3" cy="286" r="5.4"/><circle cx="399.3" cy="292.5" r="5.4"/><circle cx="440.6" cy="289.1" r="5.4"/><circle cx="453.4" cy="288.8" r="5.4"/><circle cx="444.8" cy="296.8" r="5.4"/><circle cx="366.6" cy="303" r="5.4"/><circle cx="373.7" cy="296.8" r="5.4"/><circle cx="457.1" cy="303.9" r="5.4"/><circle cx="472.7" cy="304.5" r="5.4"/><circle cx="446.5" cy="308.7" r="5.4"/><circle cx="374.3" cy="315.3" r="5.4"/><circle cx="364.6" cy="323.8" r="5.4"/><circle cx="477.5" cy="318.1" r="5.4"/><circle cx="474.7" cy="325.8" r="5.4"/><circle cx="471.8" cy="350.8" r="5.4"/><circle cx="513.1" cy="367.3" r="5.4"/><circle cx="491.8" cy="384.4" r="5.4"/><circle cx="499.4" cy="378.4" r="5.4"/><circle cx="545.8" cy="395.8" r="5.4"/><circle cx="344.6" cy="289.9" r="5.4"/><circle cx="355" cy="288.9" r="5.4"/><circle cx="350.3" cy="293.7" r="5.4"/><circle cx="365.5" cy="303.2" r="5.4"/><circle cx="371.2" cy="295.6" r="5.4"/><circle cx="380.6" cy="287" r="5.4"/><circle cx="387.3" cy="292.7" r="5.4"/><circle cx="382.5" cy="298.4" r="5.4"/><circle cx="395.8" cy="281.7" r="5.4"/><circle cx="409" cy="286.1" r="5.4"/><circle cx="410.9" cy="298.4" r="5.4"/><circle cx="399.6" cy="292.7" r="5.4"/><circle cx="386.3" cy="274.7" r="5.4"/><circle cx="371.2" cy="273.8" r="5.4"/><circle cx="428.9" cy="274.7" r="5.4"/><circle cx="443.2" cy="272.8" r="5.4"/><circle cx="458.3" cy="275.7" r="5.4"/><circle cx="465.9" cy="277.6" r="5.4"/><circle cx="442.2" cy="288.9" r="5.4"/><circle cx="452.6" cy="288.9" r="5.4"/><circle cx="445" cy="298.4" r="5.4"/><circle cx="446.9" cy="308.8" r="5.4"/><circle cx="457.4" cy="304.1" r="5.4"/><circle cx="472.5" cy="304.1" r="5.4"/><circle cx="475.4" cy="315.5" r="5.4"/><circle cx="474.4" cy="326.8" r="5.4"/><circle cx="374.9" cy="315.5" r="5.4"/><circle cx="365.5" cy="324" r="5.4"/><circle cx="544.4" cy="436" r="5.4"/><circle cx="488.1" cy="468.7" r="5.4"/><circle cx="457.6" cy="477.6" r="5.4"/><circle cx="452.8" cy="509.4" r="5.4"/><circle cx="426.3" cy="519.4" r="5.4"/><circle cx="419.8" cy="527.9" r="5.4"/><circle cx="410.7" cy="535.9" r="5.4"/><circle cx="467.2" cy="464.4" r="5.4"/><circle cx="475.2" cy="462.2" r="5.4"/><circle cx="444.4" cy="481" r="5.4"/><circle cx="443" cy="487.7" r="5.4"/></g>
<g fill="#e64b35"><circle cx="527.9" cy="88.9" r="5.4"/><circle cx="506.8" cy="105.7" r="5.4"/><circle cx="527.3" cy="107.1" r="5.4"/><circle cx="521" cy="118.2" r="5.4"/><circle cx="504.6" cy="146.1" r="5.4"/><circle cx="490.3" cy="162.3" r="5.4"/><circle cx="545.8" cy="173.6" r="5.4"/><circle cx="498.3" cy="183.9" r="5.4"/><circle cx="496" cy="205.8" r="5.4"/><circle cx="515.1" cy="202.7" r="5.4"/><circle cx="533" cy="217.4" r="5.4"/><circle cx="496.6" cy="225.1" r="5.4"/><circle cx="490.3" cy="236.5" r="5.4"/><circle cx="523" cy="239.1" r="5.4"/><circle cx="492.6" cy="252.7" r="5.4"/><circle cx="487.5" cy="258.4" r="5.4"/><circle cx="502.3" cy="270.6" r="5.4"/><circle cx="507.4" cy="274.6" r="5.4"/><circle cx="502.6" cy="284.8" r="5.4"/><circle cx="491.8" cy="287.7" r="5.4"/><circle cx="484.1" cy="290.5" r="5.4"/><circle cx="481.2" cy="295.4" r="5.4"/><circle cx="480.4" cy="302.5" r="5.4"/><circle cx="498.3" cy="301.6" r="5.4"/><circle cx="504.6" cy="303.9" r="5.4"/><circle cx="510.2" cy="311" r="5.4"/><circle cx="517.4" cy="315.6" r="5.4"/><circle cx="504.6" cy="316.1" r="5.4"/><circle cx="492" cy="325.8" r="5.4"/><circle cx="508.3" cy="332.3" r="5.4"/><circle cx="506.8" cy="336.6" r="5.4"/><circle cx="481.8" cy="358.2" r="5.4"/><circle cx="486.9" cy="359.4" r="5.4"/><circle cx="498.3" cy="358.8" r="5.4"/></g>
<g fill="#4dbbd5"><circle cx="86.9" cy="337.5" r="5.4"/></g>
</g>

<line x1="139.1" y1="65.3" x2="139.1" y2="591.5" stroke="#b4b4b4" stroke-width="2.8" stroke-dasharray="17.8 5.95 5.95 5.95" stroke-dashoffset="4"/>
<line x1="479.9" y1="65.3" x2="479.9" y2="591.5" stroke="#b4b4b4" stroke-width="2.8" stroke-dasharray="17.8 5.95 5.95 5.95" stroke-dashoffset="4"/>
<line x1="64.3" y1="367" x2="568.4" y2="367" stroke="#b4b4b4" stroke-width="2.8" stroke-dasharray="17.8 5.95 5.95 5.95" stroke-dashoffset="24"/>
<rect x="64.3" y="65.3" width="504.1" height="526.2" fill="none" stroke="#4a4a4a" stroke-width="1.05"/>
<g fill="#4d4d4d" font-size="12.3"><line x1="139.1" y1="591.5" x2="139.1" y2="595.5" stroke="#333" stroke-width="1.5"/><text x="139.1" y="607.8" text-anchor="middle">−1.0</text><line x1="224.3" y1="591.5" x2="224.3" y2="595.5" stroke="#333" stroke-width="1.5"/><text x="224.3" y="607.8" text-anchor="middle">−0.5</text><line x1="309.5" y1="591.5" x2="309.5" y2="595.5" stroke="#333" stroke-width="1.5"/><text x="309.5" y="607.8" text-anchor="middle">0.0</text><line x1="394.7" y1="591.5" x2="394.7" y2="595.5" stroke="#333" stroke-width="1.5"/><text x="394.7" y="607.8" text-anchor="middle">0.5</text><line x1="479.9" y1="591.5" x2="479.9" y2="595.5" stroke="#333" stroke-width="1.5"/><text x="479.9" y="607.8" text-anchor="middle">1.0</text><line x1="565.1" y1="591.5" x2="565.1" y2="595.5" stroke="#333" stroke-width="1.5"/><text x="565.1" y="607.8" text-anchor="middle">1.5</text><line x1="60.3" y1="567.4" x2="64.3" y2="567.4" stroke="#333" stroke-width="1.5"/><text x="56.7" y="571.5" text-anchor="end">0</text><line x1="60.3" y1="413.4" x2="64.3" y2="413.4" stroke="#333" stroke-width="1.5"/><text x="56.7" y="417.5" text-anchor="end">1</text><line x1="60.3" y1="259.4" x2="64.3" y2="259.4" stroke="#333" stroke-width="1.5"/><text x="56.7" y="263.5" text-anchor="end">2</text><line x1="60.3" y1="105.4" x2="64.3" y2="105.4" stroke="#333" stroke-width="1.5"/><text x="56.7" y="109.5" text-anchor="end">3</text></g>
<text x="316.3" y="625.5" text-anchor="middle" font-size="15.7">logFC</text>
<text transform="translate(46.1 328) rotate(-90)" text-anchor="middle" font-size="15.7">−log10(P.Value)</text>
<text x="592.6" y="293.6" font-size="15.4">Significant</text>
<g filter="url(#ring)">
<circle cx="604.2" cy="315.6" r="5.4" fill="#4dbbd5"/>
<circle cx="604.2" cy="339.6" r="5.4" fill="#7f8985"/>
<circle cx="604.2" cy="363.8" r="5.4" fill="#e64b35"/>
</g>
<g font-size="12.3"><text x="624.6" y="320">Down</text><text x="624.6" y="344.2">Not</text><text x="624.6" y="368.3">Up</text></g>
<text transform="translate(17.3 27.8) scale(1 1.15)" font-size="31.3">A</text>
<line x1="773" y1="65.4" x2="773" y2="591.3" stroke="#f0f0f0" stroke-width="0.7"/><line x1="876.2" y1="65.4" x2="876.2" y2="591.3" stroke="#f0f0f0" stroke-width="0.7"/><line x1="979.6" y1="65.4" x2="979.6" y2="591.3" stroke="#f0f0f0" stroke-width="0.7"/><line x1="1082.9" y1="65.4" x2="1082.9" y2="591.3" stroke="#f0f0f0" stroke-width="0.7"/><line x1="1186.2" y1="65.4" x2="1186.2" y2="591.3" stroke="#f0f0f0" stroke-width="0.7"/><line x1="742.2" y1="477.3" x2="1239.6" y2="477.3" stroke="#f0f0f0" stroke-width="0.7"/><line x1="742.2" y1="295.5" x2="1239.6" y2="295.5" stroke="#f0f0f0" stroke-width="0.7"/><line x1="742.2" y1="113.7" x2="1239.6" y2="113.7" stroke="#f0f0f0" stroke-width="0.7"/><line x1="824.6" y1="65.4" x2="824.6" y2="591.3" stroke="#ebebeb" stroke-width="1.2"/><line x1="927.9" y1="65.4" x2="927.9" y2="591.3" stroke="#ebebeb" stroke-width="1.2"/><line x1="1031.2" y1="65.4" x2="1031.2" y2="591.3" stroke="#ebebeb" stroke-width="1.2"/><line x1="1134.5" y1="65.4" x2="1134.5" y2="591.3" stroke="#ebebeb" stroke-width="1.2"/><line x1="1237.8" y1="65.4" x2="1237.8" y2="591.3" stroke="#ebebeb" stroke-width="1.2"/><line x1="742.2" y1="568.2" x2="1239.6" y2="568.2" stroke="#ebebeb" stroke-width="1.2"/><line x1="742.2" y1="386.4" x2="1239.6" y2="386.4" stroke="#ebebeb" stroke-width="1.2"/><line x1="742.2" y1="204.6" x2="1239.6" y2="204.6" stroke="#ebebeb" stroke-width="1.2"/>
<g filter="url(#ring)">
<g fill="#7f8985"><path d="M973.3 375.4 L973.5 376.6 L973.6 377.8 L973.6 379 L973.4 380.2 L973.2 381.4 L972.8 382.5 L972.3 383.6 L971.7 384.6 L971 385.6 L970.2 386.5 L969.6 387.1 L969.7 387.3 L969.9 388.5 L970 389.6 L970 390.8 L969.8 392 L969.6 393.1 L969.2 394.2 L966.2 402.2 L965.7 403.4 L965.1 404.5 L964.3 405.6 L963.5 406.5 L963 406.9 L963 463.9 L963.4 464.3 L964.2 465.1 L964.9 466 L965.4 467 L965.9 468.1 L966.3 469.2 L966.6 470.3 L966.7 471.4 L966.8 472.5 L966.8 473.7 L966.6 474.8 L966.3 475.9 L963.6 485.4 L963.6 493.5 L966.4 499.2 L971.1 500.7 L972.2 501.1 L973.2 501.6 L974.2 502.2 L975.1 502.9 L976 503.7 L982.3 510.1 L983.1 511 L989.4 518.9 L990.1 519.9 L990.7 520.9 L991.1 522 L991.5 523.1 L991.8 524.2 L992 525.4 L992 526.5 L991.9 527.7 L991.7 528.9 L991.4 530 L991 531.1 L989.9 533.7 L990.7 534.3 L990.9 534.5 L1000.4 542.4 L1001.2 543.1 L1002 544 L1002.6 544.9 L1003.2 545.8 L1006 550.9 L1009.3 552.5 L1022.2 558.1 L1032 560.8 L1040.9 559.5 L1052.2 554.7 L1061.8 547.8 L1065.9 542.3 L1066.6 541.4 L1067.5 540.6 L1068.4 539.8 L1069.5 539.1 L1070.5 538.6 L1085.4 531.8 L1087.7 526.6 L1086.1 506.9 L1086.1 505.7 L1086.2 504.5 L1086.4 503.3 L1086.8 502.1 L1087.2 501 L1087.8 499.9 L1088.5 498.8 L1092 494.1 L1092 481 L1091.5 480.1 L1090.9 479.1 L1090.5 478 L1090.2 476.8 L1090 475.7 L1089.9 474.5 L1089.9 473.3 L1090.1 472.1 L1090.3 471 L1090.7 469.9 L1091.2 468.8 L1092 467.2 L1092 442.3 L1091.8 442 L1091.3 441 L1090.8 440 L1090.4 438.9 L1090.1 437.7 L1089.9 436.6 L1089.9 435.4 L1090 434.2 L1090.1 433.1 L1090.4 432 L1090.8 430.9 L1091.3 429.8 L1091.9 428.8 L1092 428.7 L1092 405.1 L1090.9 404 L1090.1 403.1 L1089.4 402.2 L1088.9 401.2 L1088.4 400.1 L1088 399 L1087.7 397.9 L1087.6 396.8 L1087.5 395.6 L1087.5 389.3 L1087.6 388.2 L1087.7 387.1 L1088 386 L1088.3 385 L1088.8 383.9 L1090.1 381.3 L1075 376 L1060 379.5 L1059.5 382.5 L1061 393.4 L1061.1 394.5 L1061.1 395.6 L1061 396.7 L1060.8 397.7 L1057.7 411.2 L1056.9 418.5 L1056.7 419.8 L1056.4 421 L1052.8 432.1 L1054.7 445.2 L1054.8 446.6 L1054.8 447.9 L1054.6 449.3 L1050.1 471.3 L1049.3 481 L1049.2 481.2 L1047.5 498.6 L1047.5 498.6 L1045.7 516 L1045.7 516.2 L1043.1 538.4 L1042.9 539.5 L1042.6 540.7 L1042.2 541.7 L1041.7 542.8 L1041.1 543.8 L1040.4 544.7 L1039.6 545.6 L1038.7 546.3 L1037.8 547 L1036.8 547.6 L1035.8 548.1 L1034.7 548.5 L1033.5 548.8 L1032.4 548.9 L1031.2 549 L1030.1 548.9 L1028.9 548.8 L1027.8 548.5 L1026.7 548.1 L1025.7 547.6 L1024.7 547.1 L1023.7 546.4 L1022.8 545.6 L1022 544.8 L1021.3 543.8 L1020.7 542.9 L1020.2 541.8 L1019.8 540.7 L1019.5 539.6 L1019.3 538.5 L1017.3 522.1 L1012.9 502.6 L1012.7 501.2 L1010.4 477.7 L1010.3 477.1 L1008.8 445.2 L1005.6 424.8 L1005.4 423.9 L1005.4 422.9 L1005.4 403.5 L1003.5 393.5 L1001.1 387.7 L1000.7 386.7 L997.6 377.2 L997.4 376.4 L995 377 L975 373 L974.4 373.1 L974.2 373.4 L973.6 374.4 L973.1 374.9 L973.3 375.4Z" fill-rule="evenodd"/></g><g fill="#7f8985"><circle cx="962.9" cy="335.4" r="5.4"/><circle cx="967.4" cy="336.9" r="5.4"/><circle cx="972.7" cy="340.8" r="5.4"/><circle cx="972.6" cy="346.1" r="5.4"/><circle cx="978.6" cy="351.4" r="5.4"/><circle cx="980.2" cy="355.2" r="5.4"/><circle cx="976.7" cy="358.2" r="5.4"/><circle cx="972.5" cy="361.5" r="5.4"/><circle cx="969.1" cy="365.3" r="5.4"/><circle cx="967.4" cy="370.1" r="5.4"/><circle cx="963.8" cy="371.9" r="5.4"/><circle cx="966.2" cy="377.8" r="5.4"/><circle cx="962" cy="383.2" r="5.4"/><circle cx="962.3" cy="388.1" r="5.4"/><circle cx="960.5" cy="393.1" r="5.4"/><circle cx="958.1" cy="400.4" r="5.4"/><circle cx="953.2" cy="404.8" r="5.4"/><circle cx="948.5" cy="408.6" r="5.4"/><circle cx="942.6" cy="412.6" r="5.4"/><circle cx="940.9" cy="418.2" r="5.4"/><circle cx="942.2" cy="425" r="5.4"/><circle cx="942.1" cy="433.1" r="5.4"/><circle cx="940.9" cy="439" r="5.4"/><circle cx="941.9" cy="446.9" r="5.4"/><circle cx="944.9" cy="453.2" r="5.4"/><circle cx="944.4" cy="460.2" r="5.4"/><circle cx="949.1" cy="464.4" r="5.4"/><circle cx="954.2" cy="467.4" r="5.4"/><circle cx="958.9" cy="470.7" r="5.4"/><circle cx="957.6" cy="476.7" r="5.4"/><circle cx="956.5" cy="484.3" r="5.4"/><circle cx="955.5" cy="491.7" r="5.4"/><circle cx="956.5" cy="497" r="5.4"/><circle cx="959.6" cy="501.4" r="5.4"/><circle cx="961.9" cy="505.5" r="5.4"/><circle cx="965.7" cy="507.2" r="5.4"/><circle cx="970.4" cy="509.7" r="5.4"/><circle cx="974.7" cy="513.7" r="5.4"/><circle cx="977.9" cy="517" r="5.4"/><circle cx="980.7" cy="521.8" r="5.4"/><circle cx="983.9" cy="526.6" r="5.4"/><circle cx="981" cy="532.6" r="5.4"/><circle cx="982.5" cy="536.8" r="5.4"/><circle cx="987.9" cy="541.8" r="5.4"/><circle cx="992.4" cy="545.6" r="5.4"/><circle cx="995.9" cy="549.5" r="5.4"/><circle cx="999.3" cy="554.1" r="5.4"/><circle cx="1003.4" cy="558.2" r="5.4"/><circle cx="1011.9" cy="561.4" r="5.4"/><circle cx="1017.9" cy="565.5" r="5.4"/><circle cx="1024.8" cy="566.4" r="5.4"/><circle cx="1029.9" cy="567.3" r="5.4"/><circle cx="1037.3" cy="568" r="5.4"/><circle cx="1042.2" cy="568" r="5.4"/><circle cx="1048.1" cy="564.6" r="5.4"/><circle cx="1052.9" cy="562.8" r="5.4"/><circle cx="1058.1" cy="558.9" r="5.4"/><circle cx="1063.8" cy="555.6" r="5.4"/><circle cx="1068.9" cy="552.6" r="5.4"/><circle cx="1070.5" cy="548" r="5.4"/><circle cx="1077.9" cy="543.6" r="5.4"/><circle cx="1082.5" cy="542.2" r="5.4"/><circle cx="1089" cy="539.1" r="5.4"/><circle cx="1093.2" cy="534.1" r="5.4"/><circle cx="1095.7" cy="527.7" r="5.4"/><circle cx="1095.8" cy="522.9" r="5.4"/><circle cx="1095.1" cy="516" r="5.4"/><circle cx="1094.7" cy="510.7" r="5.4"/><circle cx="1094.4" cy="503.1" r="5.4"/><circle cx="1097.2" cy="499.7" r="5.4"/><circle cx="1101.9" cy="493.5" r="5.4"/><circle cx="1106.3" cy="486.9" r="5.4"/><circle cx="1109.5" cy="483.4" r="5.4"/><circle cx="1102.7" cy="480" r="5.4"/><circle cx="1097.9" cy="474.3" r="5.4"/><circle cx="1098.2" cy="470" r="5.4"/><circle cx="1102" cy="462.8" r="5.4"/><circle cx="1104.3" cy="459.2" r="5.4"/><circle cx="1107.3" cy="452.8" r="5.4"/><circle cx="1105.6" cy="448.1" r="5.4"/><circle cx="1104.1" cy="443.9" r="5.4"/><circle cx="1098.9" cy="438.4" r="5.4"/><circle cx="1099.8" cy="431.6" r="5.4"/><circle cx="1103.5" cy="428.6" r="5.4"/><circle cx="1106.6" cy="423.4" r="5.4"/><circle cx="1106.9" cy="417.5" r="5.4"/><circle cx="1108" cy="410.4" r="5.4"/><circle cx="1101.9" cy="404.4" r="5.4"/><circle cx="1099" cy="400.3" r="5.4"/><circle cx="1095.3" cy="396.2" r="5.4"/><circle cx="1094.8" cy="390" r="5.4"/><circle cx="1096.3" cy="384.9" r="5.4"/><circle cx="1099.5" cy="380.3" r="5.4"/><circle cx="1102.2" cy="374.6" r="5.4"/><circle cx="1103.7" cy="368.4" r="5.4"/><circle cx="1103.3" cy="360.3" r="5.4"/><circle cx="1104.9" cy="352" r="5.4"/><circle cx="1103.6" cy="346.8" r="5.4"/><circle cx="1092" cy="337.5" r="5.4"/><circle cx="1087.4" cy="334.4" r="5.4"/><circle cx="1082.6" cy="333.3" r="5.4"/><circle cx="1077.2" cy="329.3" r="5.4"/><circle cx="1071.6" cy="325.1" r="5.4"/><circle cx="1066.2" cy="325.9" r="5.4"/><circle cx="1062" cy="330.6" r="5.4"/><circle cx="1060" cy="338.1" r="5.4"/><circle cx="1061.4" cy="342.9" r="5.4"/><circle cx="1061.6" cy="349.8" r="5.4"/><circle cx="1060" cy="354.2" r="5.4"/><circle cx="1059.2" cy="361.1" r="5.4"/><circle cx="1055.8" cy="364.8" r="5.4"/><circle cx="1053.5" cy="371.7" r="5.4"/><circle cx="1052.7" cy="379.2" r="5.4"/><circle cx="1052.4" cy="384.7" r="5.4"/><circle cx="1053.5" cy="391.5" r="5.4"/><circle cx="1052.8" cy="398.1" r="5.4"/><circle cx="1051" cy="404" r="5.4"/><circle cx="1049.3" cy="411.1" r="5.4"/><circle cx="1049" cy="417.8" r="5.4"/><circle cx="1048.2" cy="421.9" r="5.4"/><circle cx="1045.8" cy="430.4" r="5.4"/><circle cx="1046.2" cy="436.3" r="5.4"/><circle cx="1046.7" cy="441" r="5.4"/><circle cx="1047.4" cy="447.1" r="5.4"/><circle cx="1046.4" cy="454.6" r="5.4"/><circle cx="1044" cy="461.4" r="5.4"/><circle cx="1042.4" cy="468.1" r="5.4"/><circle cx="1041.4" cy="475.4" r="5.4"/><circle cx="1040.9" cy="480.9" r="5.4"/><circle cx="1041.4" cy="485.7" r="5.4"/><circle cx="1040.4" cy="490.9" r="5.4"/><circle cx="1040" cy="498.9" r="5.4"/><circle cx="1039" cy="503.6" r="5.4"/><circle cx="1038.9" cy="508.6" r="5.4"/><circle cx="1038.5" cy="516.3" r="5.4"/><circle cx="1037.2" cy="523.6" r="5.4"/><circle cx="1036.7" cy="531.2" r="5.4"/><circle cx="1035.2" cy="536.3" r="5.4"/><circle cx="1030.1" cy="541.7" r="5.4"/><circle cx="1027.6" cy="537.4" r="5.4"/><circle cx="1025.3" cy="529.1" r="5.4"/><circle cx="1024.8" cy="522.6" r="5.4"/><circle cx="1024" cy="516.2" r="5.4"/><circle cx="1022.6" cy="510.8" r="5.4"/><circle cx="1021.8" cy="505.6" r="5.4"/><circle cx="1020.4" cy="499" r="5.4"/><circle cx="1018.9" cy="493.7" r="5.4"/><circle cx="1019.6" cy="488" r="5.4"/><circle cx="1019.2" cy="481.2" r="5.4"/><circle cx="1017.7" cy="474.2" r="5.4"/><circle cx="1017.2" cy="465.4" r="5.4"/><circle cx="1017.2" cy="459" r="5.4"/><circle cx="1016.8" cy="454.6" r="5.4"/><circle cx="1017.3" cy="448.9" r="5.4"/><circle cx="1016.7" cy="442.2" r="5.4"/><circle cx="1015.5" cy="435.8" r="5.4"/><circle cx="1014.2" cy="428.8" r="5.4"/><circle cx="1013.3" cy="423" r="5.4"/><circle cx="1013.6" cy="415.5" r="5.4"/><circle cx="1013.2" cy="407.5" r="5.4"/><circle cx="1013.3" cy="402.9" r="5.4"/><circle cx="1011.3" cy="396.5" r="5.4"/><circle cx="1010.3" cy="389.3" r="5.4"/><circle cx="1008.3" cy="384.1" r="5.4"/><circle cx="1006.4" cy="378" r="5.4"/><circle cx="1004.8" cy="372.6" r="5.4"/><circle cx="1002.9" cy="365.4" r="5.4"/><circle cx="1002.4" cy="358.8" r="5.4"/><circle cx="1003.2" cy="352.4" r="5.4"/><circle cx="1004.5" cy="347.5" r="5.4"/><circle cx="1004.7" cy="341.7" r="5.4"/><circle cx="1006.4" cy="336.3" r="5.4"/><circle cx="989.1" cy="327.6" r="5.4"/><circle cx="983.2" cy="330.3" r="5.4"/><circle cx="975.9" cy="330.5" r="5.4"/><circle cx="968.9" cy="330.8" r="5.4"/><circle cx="964.3" cy="334.1" r="5.4"/><circle cx="997.3" cy="312.4" r="5.4"/><circle cx="994.5" cy="328" r="5.4"/><circle cx="979" cy="337" r="5.4"/><circle cx="1071.6" cy="337.4" r="5.4"/><circle cx="1085.3" cy="337.6" r="5.4"/><circle cx="989" cy="339.5" r="5.4"/><circle cx="997" cy="338.3" r="5.4"/><circle cx="1070.5" cy="343" r="5.4"/><circle cx="1089.5" cy="343.8" r="5.4"/><circle cx="1093" cy="343.4" r="5.4"/><circle cx="974.7" cy="348.1" r="5.4"/><circle cx="989.1" cy="349.4" r="5.4"/><circle cx="998.8" cy="349.4" r="5.4"/><circle cx="999.8" cy="351" r="5.4"/><circle cx="1068.4" cy="345.5" r="5.4"/><circle cx="1097.2" cy="350.3" r="5.4"/><circle cx="994.2" cy="354.8" r="5.4"/><circle cx="1067" cy="353.5" r="5.4"/><circle cx="1071.7" cy="357" r="5.4"/><circle cx="1080.5" cy="351.6" r="5.4"/><circle cx="1088" cy="355.5" r="5.4"/><circle cx="1095.8" cy="353.3" r="5.4"/><circle cx="1098.6" cy="352.1" r="5.4"/><circle cx="983.5" cy="358.3" r="5.4"/><circle cx="990.4" cy="364.2" r="5.4"/><circle cx="996.4" cy="361.1" r="5.4"/><circle cx="1001.1" cy="358.7" r="5.4"/><circle cx="1059.3" cy="361.1" r="5.4"/><circle cx="1070.2" cy="360" r="5.4"/><circle cx="1074.7" cy="363.2" r="5.4"/><circle cx="1082.6" cy="360.4" r="5.4"/><circle cx="1087.5" cy="361.2" r="5.4"/><circle cx="1093.5" cy="360.3" r="5.4"/><circle cx="1100.6" cy="361.3" r="5.4"/><circle cx="977.2" cy="367.8" r="5.4"/><circle cx="985" cy="369" r="5.4"/><circle cx="986.2" cy="366.3" r="5.4"/><circle cx="993.5" cy="370.2" r="5.4"/><circle cx="1063.5" cy="368.4" r="5.4"/><circle cx="1067.6" cy="370" r="5.4"/><circle cx="1075.6" cy="368.1" r="5.4"/><circle cx="1083.1" cy="366.9" r="5.4"/><circle cx="1083.8" cy="367.3" r="5.4"/><circle cx="1094.6" cy="364.3" r="5.4"/><circle cx="1097.2" cy="365.2" r="5.4"/><circle cx="965.2" cy="372.3" r="5.4"/><circle cx="968.8" cy="371.8" r="5.4"/><circle cx="978.9" cy="372.8" r="5.4"/><circle cx="981.7" cy="375" r="5.4"/><circle cx="992.5" cy="375.8" r="5.4"/><circle cx="995.3" cy="373.2" r="5.4"/><circle cx="1004.3" cy="373.6" r="5.4"/><circle cx="1056.4" cy="371.9" r="5.4"/><circle cx="1068.3" cy="375.9" r="5.4"/><circle cx="1073.5" cy="374" r="5.4"/><circle cx="1081.7" cy="372" r="5.4"/><circle cx="1095.4" cy="371.7" r="5.4"/><circle cx="1097.2" cy="370.9" r="5.4"/><circle cx="966.1" cy="377.4" r="5.4"/><circle cx="969.1" cy="381.4" r="5.4"/><circle cx="998.9" cy="383.2" r="5.4"/><circle cx="1003.3" cy="379.5" r="5.4"/><circle cx="1007" cy="382.3" r="5.4"/><circle cx="1054.5" cy="378.9" r="5.4"/><circle cx="1058.3" cy="381.4" r="5.4"/><circle cx="1066.5" cy="380.9" r="5.4"/><circle cx="1074.7" cy="380.4" r="5.4"/><circle cx="1083.3" cy="378.8" r="5.4"/><circle cx="1089.7" cy="379.3" r="5.4"/><circle cx="965.3" cy="386.1" r="5.4"/><circle cx="967.5" cy="387.4" r="5.4"/><circle cx="1000.8" cy="386.8" r="5.4"/><circle cx="1006.5" cy="384.6" r="5.4"/><circle cx="1057.9" cy="388.6" r="5.4"/><circle cx="1085.1" cy="386.2" r="5.4"/><circle cx="1091.8" cy="388.1" r="5.4"/><circle cx="963" cy="392.1" r="5.4"/><circle cx="970.3" cy="394.3" r="5.4"/><circle cx="998.7" cy="394.3" r="5.4"/><circle cx="999.7" cy="395.8" r="5.4"/><circle cx="1009.6" cy="391.9" r="5.4"/><circle cx="1062.4" cy="392.7" r="5.4"/><circle cx="1086.8" cy="395.8" r="5.4"/><circle cx="963.5" cy="402.8" r="5.4"/><circle cx="972.4" cy="397.4" r="5.4"/><circle cx="1002.4" cy="398" r="5.4"/><circle cx="1007.8" cy="402.5" r="5.4"/><circle cx="1057.4" cy="402.2" r="5.4"/><circle cx="1060.1" cy="403.2" r="5.4"/><circle cx="1089.6" cy="400.3" r="5.4"/><circle cx="1095.9" cy="399.9" r="5.4"/><circle cx="952.6" cy="408.4" r="5.4"/><circle cx="956.2" cy="409.8" r="5.4"/><circle cx="963.7" cy="404" r="5.4"/><circle cx="970.2" cy="403.4" r="5.4"/><circle cx="1004.5" cy="406.2" r="5.4"/><circle cx="1008.7" cy="408.5" r="5.4"/><circle cx="1012" cy="404.3" r="5.4"/><circle cx="1051" cy="408.8" r="5.4"/><circle cx="1054.9" cy="403.5" r="5.4"/><circle cx="1057.9" cy="407.4" r="5.4"/><circle cx="1096.1" cy="405" r="5.4"/><circle cx="1098.3" cy="408" r="5.4"/><circle cx="943.6" cy="414.6" r="5.4"/><circle cx="952.7" cy="416.1" r="5.4"/><circle cx="965.6" cy="410.6" r="5.4"/><circle cx="1004.7" cy="412.5" r="5.4"/><circle cx="1011.8" cy="411" r="5.4"/><circle cx="1012.7" cy="410.6" r="5.4"/><circle cx="1057" cy="409.8" r="5.4"/><circle cx="1091.3" cy="411.6" r="5.4"/><circle cx="1099.7" cy="412.2" r="5.4"/><circle cx="1107.2" cy="411" r="5.4"/><circle cx="949.8" cy="419.3" r="5.4"/><circle cx="953.6" cy="416.9" r="5.4"/><circle cx="964.3" cy="422.4" r="5.4"/><circle cx="1002.6" cy="419.5" r="5.4"/><circle cx="1008.6" cy="420.7" r="5.4"/><circle cx="1054.9" cy="416.6" r="5.4"/><circle cx="1060.5" cy="422.1" r="5.4"/><circle cx="1094.2" cy="418.6" r="5.4"/><circle cx="1096.5" cy="421.1" r="5.4"/><circle cx="1105" cy="416.4" r="5.4"/><circle cx="948.3" cy="423.3" r="5.4"/><circle cx="959.9" cy="427" r="5.4"/><circle cx="964.5" cy="429" r="5.4"/><circle cx="1001.7" cy="426.2" r="5.4"/><circle cx="1008.5" cy="428.4" r="5.4"/><circle cx="1012.5" cy="424.1" r="5.4"/><circle cx="1050.9" cy="427.6" r="5.4"/><circle cx="1056.7" cy="422.8" r="5.4"/><circle cx="1093.9" cy="426.6" r="5.4"/><circle cx="1100" cy="424.6" r="5.4"/><circle cx="1105" cy="423.3" r="5.4"/><circle cx="943.7" cy="434.9" r="5.4"/><circle cx="951.9" cy="435.7" r="5.4"/><circle cx="955.9" cy="430.8" r="5.4"/><circle cx="963.3" cy="432.6" r="5.4"/><circle cx="967.3" cy="435.3" r="5.4"/><circle cx="1002.5" cy="431.4" r="5.4"/><circle cx="1005.6" cy="429.3" r="5.4"/><circle cx="1013.4" cy="430.6" r="5.4"/><circle cx="1047.4" cy="431.4" r="5.4"/><circle cx="1053.6" cy="429.4" r="5.4"/><circle cx="1089.2" cy="430.2" r="5.4"/><circle cx="1095.4" cy="430.2" r="5.4"/><circle cx="1098.3" cy="431.5" r="5.4"/><circle cx="944.8" cy="436.5" r="5.4"/><circle cx="958.8" cy="437.2" r="5.4"/><circle cx="961.6" cy="438.5" r="5.4"/><circle cx="966.7" cy="437.4" r="5.4"/><circle cx="1010.9" cy="441.5" r="5.4"/><circle cx="1046.9" cy="438.7" r="5.4"/><circle cx="1053.3" cy="438.3" r="5.4"/><circle cx="1086.5" cy="439.8" r="5.4"/><circle cx="1090.9" cy="436.3" r="5.4"/><circle cx="946" cy="444.3" r="5.4"/><circle cx="959" cy="446.7" r="5.4"/><circle cx="1011.7" cy="442.5" r="5.4"/><circle cx="1013.7" cy="446.2" r="5.4"/><circle cx="1050.6" cy="446.8" r="5.4"/><circle cx="1051" cy="442.9" r="5.4"/><circle cx="1058.4" cy="444.7" r="5.4"/><circle cx="1093.5" cy="445.1" r="5.4"/><circle cx="1100.3" cy="445.3" r="5.4"/><circle cx="951.9" cy="449.6" r="5.4"/><circle cx="954.5" cy="451.1" r="5.4"/><circle cx="962.3" cy="452.7" r="5.4"/><circle cx="1005.7" cy="449.1" r="5.4"/><circle cx="1014.4" cy="452.4" r="5.4"/><circle cx="1048.2" cy="451.9" r="5.4"/><circle cx="1053.7" cy="449.2" r="5.4"/><circle cx="1057.9" cy="453" r="5.4"/><circle cx="1093.2" cy="454.9" r="5.4"/><circle cx="1100.6" cy="449.1" r="5.4"/><circle cx="950.7" cy="459" r="5.4"/><circle cx="957.9" cy="457.4" r="5.4"/><circle cx="962.6" cy="458.7" r="5.4"/><circle cx="1010" cy="461.2" r="5.4"/><circle cx="1017.2" cy="458.9" r="5.4"/><circle cx="1049.2" cy="460.6" r="5.4"/><circle cx="1053.8" cy="459.7" r="5.4"/><circle cx="1089.7" cy="458.9" r="5.4"/><circle cx="1096.3" cy="456.4" r="5.4"/><circle cx="1096.5" cy="456.8" r="5.4"/><circle cx="1103.4" cy="459.5" r="5.4"/><circle cx="964" cy="463.8" r="5.4"/><circle cx="1011.9" cy="462.5" r="5.4"/><circle cx="1014.5" cy="466" r="5.4"/><circle cx="1045.1" cy="464.3" r="5.4"/><circle cx="1053.9" cy="462.9" r="5.4"/><circle cx="1088.5" cy="462.9" r="5.4"/><circle cx="1093.9" cy="462.9" r="5.4"/><circle cx="1100.1" cy="467" r="5.4"/><circle cx="966" cy="471.3" r="5.4"/><circle cx="969.8" cy="469.3" r="5.4"/><circle cx="1010.8" cy="469.7" r="5.4"/><circle cx="1014.9" cy="474" r="5.4"/><circle cx="1047.7" cy="471.2" r="5.4"/><circle cx="1087" cy="470.3" r="5.4"/><circle cx="1095.3" cy="474.4" r="5.4"/><circle cx="961.3" cy="478.6" r="5.4"/><circle cx="968.1" cy="479.8" r="5.4"/><circle cx="1011" cy="476.6" r="5.4"/><circle cx="1013.4" cy="477.3" r="5.4"/><circle cx="1041.9" cy="479.8" r="5.4"/><circle cx="1049.9" cy="476.2" r="5.4"/><circle cx="1051.4" cy="478.7" r="5.4"/><circle cx="1087" cy="479.5" r="5.4"/><circle cx="1096.4" cy="479.7" r="5.4"/><circle cx="1099.3" cy="478.3" r="5.4"/><circle cx="960.8" cy="485.1" r="5.4"/><circle cx="967.3" cy="482.1" r="5.4"/><circle cx="1011.5" cy="481.8" r="5.4"/><circle cx="1015.4" cy="484.9" r="5.4"/><circle cx="1050.3" cy="485.9" r="5.4"/><circle cx="1052.3" cy="487.2" r="5.4"/><circle cx="1090.7" cy="485.9" r="5.4"/><circle cx="1102.9" cy="484.7" r="5.4"/><circle cx="1107.3" cy="482.2" r="5.4"/><circle cx="957.1" cy="489.1" r="5.4"/><circle cx="960.4" cy="489.3" r="5.4"/><circle cx="966.6" cy="492.1" r="5.4"/><circle cx="1011.1" cy="492.3" r="5.4"/><circle cx="1016.3" cy="493.6" r="5.4"/><circle cx="1041.8" cy="490" r="5.4"/><circle cx="1050" cy="489.4" r="5.4"/><circle cx="1089.9" cy="490.6" r="5.4"/><circle cx="1093" cy="491.7" r="5.4"/><circle cx="958.3" cy="497.1" r="5.4"/><circle cx="960.4" cy="498.1" r="5.4"/><circle cx="972.1" cy="496.7" r="5.4"/><circle cx="1009.5" cy="498" r="5.4"/><circle cx="1015.6" cy="496.8" r="5.4"/><circle cx="1018.8" cy="498.1" r="5.4"/><circle cx="1044.5" cy="496.3" r="5.4"/><circle cx="1050.8" cy="497.4" r="5.4"/><circle cx="1087.8" cy="496.9" r="5.4"/><circle cx="1094.4" cy="498.1" r="5.4"/><circle cx="963.5" cy="502.7" r="5.4"/><circle cx="967.2" cy="507.2" r="5.4"/><circle cx="979.5" cy="506.3" r="5.4"/><circle cx="982.4" cy="505.5" r="5.4"/><circle cx="1009.5" cy="501.2" r="5.4"/><circle cx="1015" cy="500.8" r="5.4"/><circle cx="1020.2" cy="507" r="5.4"/><circle cx="1041.9" cy="504.9" r="5.4"/><circle cx="1049" cy="506.8" r="5.4"/><circle cx="1085.5" cy="505.9" r="5.4"/><circle cx="1091" cy="501.7" r="5.4"/><circle cx="974.8" cy="510.3" r="5.4"/><circle cx="982.3" cy="512.5" r="5.4"/><circle cx="987.2" cy="512.2" r="5.4"/><circle cx="1011" cy="509.6" r="5.4"/><circle cx="1014.3" cy="513.2" r="5.4"/><circle cx="1040.1" cy="508.7" r="5.4"/><circle cx="1046.2" cy="511.8" r="5.4"/><circle cx="1082" cy="511.8" r="5.4"/><circle cx="1090" cy="513.1" r="5.4"/><circle cx="976.7" cy="514.9" r="5.4"/><circle cx="981.8" cy="517.9" r="5.4"/><circle cx="989.9" cy="519.6" r="5.4"/><circle cx="1012.9" cy="514.6" r="5.4"/><circle cx="1020.4" cy="517.8" r="5.4"/><circle cx="1039.7" cy="519.2" r="5.4"/><circle cx="1045.2" cy="518.8" r="5.4"/><circle cx="1088.4" cy="515.6" r="5.4"/><circle cx="983.5" cy="522.5" r="5.4"/><circle cx="986.3" cy="520.7" r="5.4"/><circle cx="992.8" cy="522.3" r="5.4"/><circle cx="1017.6" cy="521.4" r="5.4"/><circle cx="1022.6" cy="526" r="5.4"/><circle cx="1037.9" cy="524.4" r="5.4"/><circle cx="1042.5" cy="522.3" r="5.4"/><circle cx="1084.8" cy="521.3" r="5.4"/><circle cx="1093.6" cy="526.2" r="5.4"/><circle cx="989.4" cy="531.4" r="5.4"/><circle cx="996.1" cy="526.8" r="5.4"/><circle cx="1013.6" cy="528.2" r="5.4"/><circle cx="1022.4" cy="532.7" r="5.4"/><circle cx="1038.1" cy="531.8" r="5.4"/><circle cx="1081" cy="531.2" r="5.4"/><circle cx="1087.8" cy="526.9" r="5.4"/><circle cx="985.2" cy="536.7" r="5.4"/><circle cx="989.5" cy="535.1" r="5.4"/><circle cx="993.7" cy="536.4" r="5.4"/><circle cx="1001.5" cy="539.1" r="5.4"/><circle cx="1019.9" cy="535.8" r="5.4"/><circle cx="1035.3" cy="538.7" r="5.4"/><circle cx="1043.7" cy="533.7" r="5.4"/><circle cx="1065.2" cy="537.9" r="5.4"/><circle cx="1076.7" cy="539.2" r="5.4"/><circle cx="1077.1" cy="537" r="5.4"/><circle cx="1084.7" cy="536.6" r="5.4"/><circle cx="991.7" cy="540.2" r="5.4"/><circle cx="994.7" cy="542.8" r="5.4"/><circle cx="1002.3" cy="542.1" r="5.4"/><circle cx="1017.5" cy="542.6" r="5.4"/><circle cx="1024.6" cy="542.1" r="5.4"/><circle cx="1031.4" cy="543.4" r="5.4"/><circle cx="1033.9" cy="543.8" r="5.4"/><circle cx="1038.7" cy="544.2" r="5.4"/><circle cx="1068.9" cy="545.6" r="5.4"/><circle cx="1074.6" cy="544.7" r="5.4"/><circle cx="1004" cy="549.2" r="5.4"/><circle cx="1010.7" cy="549.3" r="5.4"/><circle cx="1016.3" cy="551.7" r="5.4"/><circle cx="1022.1" cy="549.9" r="5.4"/><circle cx="1031" cy="546.5" r="5.4"/><circle cx="1031.6" cy="546.5" r="5.4"/><circle cx="1040" cy="549.8" r="5.4"/><circle cx="1051.1" cy="551.9" r="5.4"/><circle cx="1059" cy="552.5" r="5.4"/><circle cx="1066.2" cy="551.8" r="5.4"/><circle cx="1008.8" cy="556.1" r="5.4"/><circle cx="1015.3" cy="553.9" r="5.4"/><circle cx="1024.9" cy="557.6" r="5.4"/><circle cx="1026.8" cy="555" r="5.4"/><circle cx="1036.1" cy="558.4" r="5.4"/><circle cx="1041.6" cy="554.6" r="5.4"/><circle cx="1046.8" cy="556.3" r="5.4"/><circle cx="1056.7" cy="557.3" r="5.4"/><circle cx="1059" cy="552.9" r="5.4"/><circle cx="1013.7" cy="560.2" r="5.4"/><circle cx="1031.3" cy="559.7" r="5.4"/><circle cx="1035.3" cy="565.6" r="5.4"/><circle cx="1041.7" cy="565.6" r="5.4"/><circle cx="1045.4" cy="563.9" r="5.4"/><circle cx="1056.5" cy="560" r="5.4"/></g>
<g fill="#7f8985"><circle cx="961.3" cy="120.2" r="5.4"/><circle cx="932.6" cy="177.9" r="5.4"/><circle cx="957.6" cy="188.5" r="5.4"/><circle cx="969.2" cy="227.1" r="5.4"/><circle cx="947.3" cy="236.8" r="5.4"/><circle cx="937.7" cy="256.7" r="5.4"/><circle cx="941.4" cy="266.1" r="5.4"/><circle cx="969.5" cy="257.3" r="5.4"/><circle cx="983.8" cy="279.2" r="5.4"/><circle cx="992.3" cy="273.5" r="5.4"/><circle cx="943.8" cy="298.2" r="5.4"/><circle cx="947.4" cy="304.2" r="5.4"/><circle cx="965.6" cy="298.2" r="5.4"/><circle cx="960.4" cy="305.7" r="5.4"/><circle cx="993.4" cy="273.9" r="5.4"/><circle cx="985.4" cy="281.9" r="5.4"/><circle cx="983.8" cy="291.4" r="5.4"/><circle cx="990" cy="286.4" r="5.4"/><circle cx="991.6" cy="303.5" r="5.4"/><circle cx="929.2" cy="346" r="5.4"/><circle cx="940.6" cy="346.7" r="5.4"/><circle cx="939.9" cy="354.7" r="5.4"/><circle cx="941.5" cy="363.3" r="5.4"/><circle cx="954.3" cy="352.8" r="5.4"/><circle cx="946.8" cy="375.6" r="5.4"/><circle cx="930.1" cy="391.5" r="5.4"/><circle cx="950.6" cy="389.2" r="5.4"/><circle cx="959.3" cy="393.3" r="5.4"/><circle cx="955.9" cy="334.2" r="5.4"/><circle cx="966.1" cy="329.6" r="5.4"/><circle cx="972.9" cy="326.2" r="5.4"/><circle cx="982" cy="327.4" r="5.4"/><circle cx="959.3" cy="370.6" r="5.4"/><circle cx="968.4" cy="363.8" r="5.4"/><circle cx="970.6" cy="350.1" r="5.4"/><circle cx="931" cy="391.8" r="5.4"/><circle cx="934" cy="400.9" r="5.4"/><circle cx="950.6" cy="389.6" r="5.4"/><circle cx="960.1" cy="395.9" r="5.4"/><circle cx="931" cy="426.6" r="5.4"/><circle cx="933.3" cy="470.6" r="5.4"/><circle cx="938.5" cy="483.5" r="5.4"/><circle cx="938.5" cy="491.5" r="5.4"/><circle cx="937.4" cy="504" r="5.4"/><circle cx="935.1" cy="446.4" r="5.4"/><circle cx="941.9" cy="449.4" r="5.4"/><circle cx="948.7" cy="452.8" r="5.4"/><circle cx="944.2" cy="465.3" r="5.4"/><circle cx="939.6" cy="414.1" r="5.4"/><circle cx="946.5" cy="411.9" r="5.4"/><circle cx="955.6" cy="411.9" r="5.4"/><circle cx="939.6" cy="432.3" r="5.4"/><circle cx="948.7" cy="436.9" r="5.4"/><circle cx="960.1" cy="443.7" r="5.4"/><circle cx="959" cy="510.8" r="5.4"/><circle cx="938.2" cy="256.3" r="5.4"/><circle cx="941.3" cy="266.3" r="5.4"/><circle cx="993.6" cy="273" r="5.4"/><circle cx="995.4" cy="279" r="5.4"/><circle cx="984.5" cy="281.8" r="5.4"/><circle cx="989" cy="285.4" r="5.4"/><circle cx="983.9" cy="291.7" r="5.4"/><circle cx="944.2" cy="298.5" r="5.4"/><circle cx="947.3" cy="303.9" r="5.4"/><circle cx="965.4" cy="298.5" r="5.4"/><circle cx="960.5" cy="306.3" r="5.4"/><circle cx="991.8" cy="302.6" r="5.4"/><circle cx="1002.6" cy="309.9" r="5.4"/><circle cx="998.1" cy="319" r="5.4"/><circle cx="992.7" cy="320.8" r="5.4"/><circle cx="955.4" cy="332.6" r="5.4"/><circle cx="966.3" cy="329" r="5.4"/><circle cx="973.6" cy="326.2" r="5.4"/><circle cx="981.8" cy="327.2" r="5.4"/><circle cx="1008.1" cy="332.6" r="5.4"/><circle cx="1073.8" cy="272.3" r="5.4"/><circle cx="1089.8" cy="263.2" r="5.4"/><circle cx="1057.1" cy="300.5" r="5.4"/><circle cx="1071.3" cy="296.3" r="5.4"/><circle cx="1081.6" cy="286.3" r="5.4"/><circle cx="1086.2" cy="279.9" r="5.4"/><circle cx="1077.1" cy="310.8" r="5.4"/><circle cx="1084.4" cy="301.7" r="5.4"/><circle cx="1059.9" cy="326.2" r="5.4"/><circle cx="1068" cy="320.8" r="5.4"/><circle cx="1075.3" cy="323.5" r="5.4"/><circle cx="1105.2" cy="240.8" r="5.4"/><circle cx="1105.2" cy="245.6" r="5.4"/><circle cx="1120.8" cy="243.6" r="5.4"/><circle cx="1130.8" cy="251.6" r="5.4"/><circle cx="1093" cy="263.5" r="5.4"/><circle cx="1103.8" cy="263.5" r="5.4"/><circle cx="1114.6" cy="263.5" r="5.4"/><circle cx="1122.3" cy="263.5" r="5.4"/><circle cx="1073.9" cy="272.1" r="5.4"/><circle cx="1091.5" cy="272.1" r="5.4"/><circle cx="1128" cy="279.2" r="5.4"/><circle cx="994.3" cy="272.6" r="5.4"/><circle cx="1092.3" cy="273.7" r="5.4"/><circle cx="1094.6" cy="280.5" r="5.4"/><circle cx="1083.2" cy="283.9" r="5.4"/><circle cx="1082.1" cy="288.4" r="5.4"/><circle cx="1128.3" cy="280.5" r="5.4"/><circle cx="1071.9" cy="296" r="5.4"/><circle cx="1101.4" cy="296" r="5.4"/><circle cx="1118.5" cy="291.9" r="5.4"/><circle cx="1116.2" cy="296.4" r="5.4"/><circle cx="1083.2" cy="301" r="5.4"/><circle cx="1092.3" cy="301.4" r="5.4"/><circle cx="1077.5" cy="310" r="5.4"/><circle cx="1083.2" cy="308.9" r="5.4"/><circle cx="1111.7" cy="307.8" r="5.4"/><circle cx="1111.7" cy="313.5" r="5.4"/><circle cx="1115.1" cy="318.7" r="5.4"/><circle cx="1130.6" cy="306.6" r="5.4"/><circle cx="1126" cy="326" r="5.4"/><circle cx="1128.7" cy="335.1" r="5.4"/><circle cx="1130.6" cy="346" r="5.4"/><circle cx="1060" cy="326.7" r="5.4"/><circle cx="1068.4" cy="321" r="5.4"/><circle cx="1076.4" cy="324.8" r="5.4"/><circle cx="1087.8" cy="330.5" r="5.4"/><circle cx="1055.9" cy="339.2" r="5.4"/><circle cx="1099.2" cy="340.8" r="5.4"/><circle cx="1110.5" cy="346" r="5.4"/><circle cx="1118.5" cy="371" r="5.4"/><circle cx="1131" cy="368.8" r="5.4"/><circle cx="1126.5" cy="373.8" r="5.4"/><circle cx="1121.9" cy="384" r="5.4"/><circle cx="1114" cy="389.7" r="5.4"/><circle cx="1124.2" cy="401.1" r="5.4"/><circle cx="1113.3" cy="394.6" r="5.4"/><circle cx="1124.7" cy="403.7" r="5.4"/><circle cx="1122.8" cy="418.4" r="5.4"/><circle cx="1113.3" cy="437.8" r="5.4"/><circle cx="1120.1" cy="441.2" r="5.4"/><circle cx="1125.1" cy="444.6" r="5.4"/><circle cx="1120.1" cy="469.6" r="5.4"/><circle cx="1128.1" cy="471.9" r="5.4"/><circle cx="1129.2" cy="483.3" r="5.4"/><circle cx="1126.9" cy="500.4" r="5.4"/><circle cx="1133.8" cy="498.8" r="5.4"/><circle cx="1117.8" cy="507.2" r="5.4"/><circle cx="1115.6" cy="514" r="5.4"/><circle cx="1113.3" cy="522" r="5.4"/><circle cx="1122.4" cy="527.7" r="5.4"/><circle cx="1129.2" cy="531.1" r="5.4"/><circle cx="1111" cy="421.9" r="5.4"/><circle cx="1106.5" cy="494.7" r="5.4"/><circle cx="1115.6" cy="481" r="5.4"/><circle cx="938.2" cy="483.5" r="5.4"/><circle cx="938.6" cy="492.2" r="5.4"/><circle cx="937.9" cy="501.7" r="5.4"/><circle cx="938.6" cy="506.9" r="5.4"/><circle cx="950.4" cy="530.4" r="5.4"/><circle cx="967.8" cy="523.4" r="5.4"/><circle cx="960" cy="510.9" r="5.4"/><circle cx="1082.5" cy="550.4" r="5.4"/><circle cx="1095.5" cy="540.8" r="5.4"/><circle cx="1101.6" cy="528.7" r="5.4"/><circle cx="1127.7" cy="500" r="5.4"/><circle cx="1118.1" cy="506.9" r="5.4"/><circle cx="1115.5" cy="513" r="5.4"/><circle cx="1113.8" cy="521.7" r="5.4"/><circle cx="1122.5" cy="526.9" r="5.4"/><circle cx="1126.8" cy="531.3" r="5.4"/><circle cx="1130.3" cy="484.3" r="5.4"/><circle cx="1106.8" cy="494.8" r="5.4"/><circle cx="1117.2" cy="482.6" r="5.4"/><circle cx="945.7" cy="303.4" r="5.4"/><circle cx="961.6" cy="306.8" r="5.4"/><circle cx="966.2" cy="301.1" r="5.4"/><circle cx="954.1" cy="352.3" r="5.4"/><circle cx="946.8" cy="375.1" r="5.4"/><circle cx="950.2" cy="389.9" r="5.4"/><circle cx="960.5" cy="395.6" r="5.4"/><circle cx="942.3" cy="359.2" r="5.4"/><circle cx="1076.5" cy="310.2" r="5.4"/><circle cx="1083.3" cy="306.8" r="5.4"/><circle cx="1112.9" cy="306.8" r="5.4"/><circle cx="1115.2" cy="318.2" r="5.4"/><circle cx="1131.1" cy="306.8" r="5.4"/><circle cx="1126.6" cy="325" r="5.4"/><circle cx="1128.8" cy="331.9" r="5.4"/><circle cx="1130" cy="345.5" r="5.4"/><circle cx="1118.6" cy="370.5" r="5.4"/><circle cx="1131.1" cy="368.3" r="5.4"/><circle cx="1122" cy="384.2" r="5.4"/><circle cx="1115.2" cy="391" r="5.4"/><circle cx="1124.3" cy="403.5" r="5.4"/><circle cx="1122" cy="418.3" r="5.4"/><circle cx="1115.2" cy="438.8" r="5.4"/><circle cx="960" cy="332" r="5.4"/><circle cx="966" cy="328" r="5.4"/><circle cx="972.7" cy="326" r="5.4"/><circle cx="981" cy="327" r="5.4"/><circle cx="941" cy="446" r="5.4"/><circle cx="938" cy="440" r="5.4"/><circle cx="938" cy="425" r="5.4"/><circle cx="940" cy="415" r="5.4"/><circle cx="946" cy="410" r="5.4"/><circle cx="944.2" cy="298.4" r="5.4"/><circle cx="947.4" cy="304" r="5.4"/><circle cx="964.8" cy="298.4" r="5.4"/><circle cx="960" cy="307.1" r="5.4"/><circle cx="931.6" cy="345.8" r="5.4"/><circle cx="941.1" cy="346.6" r="5.4"/><circle cx="940.3" cy="354.5" r="5.4"/><circle cx="941.1" cy="364" r="5.4"/><circle cx="953.7" cy="352.1" r="5.4"/><circle cx="946.6" cy="375.8" r="5.4"/><circle cx="983.7" cy="289.7" r="5.4"/><circle cx="988.5" cy="287.4" r="5.4"/><circle cx="933.4" cy="470.3" r="5.4"/><circle cx="938.6" cy="482.9" r="5.4"/><circle cx="938.6" cy="491.6" r="5.4"/><circle cx="937.4" cy="504.2" r="5.4"/><circle cx="939.7" cy="506.6" r="5.4"/><circle cx="950" cy="530.3" r="5.4"/><circle cx="967.4" cy="523.2" r="5.4"/><circle cx="1056.9" cy="300.3" r="5.4"/><circle cx="1071.7" cy="296.3" r="5.4"/><circle cx="1082.1" cy="288.5" r="5.4"/><circle cx="1076.9" cy="311.1" r="5.4"/><circle cx="1083.9" cy="307.6" r="5.4"/><circle cx="1082.1" cy="302.4" r="5.4"/><circle cx="1092.6" cy="301.5" r="5.4"/><circle cx="1101.2" cy="296.3" r="5.4"/><circle cx="1116.9" cy="292.8" r="5.4"/><circle cx="1116" cy="298" r="5.4"/><circle cx="1111.7" cy="306.7" r="5.4"/><circle cx="1111.7" cy="312.8" r="5.4"/><circle cx="1115.1" cy="318.9" r="5.4"/><circle cx="1129.9" cy="305.9" r="5.4"/><circle cx="1124.7" cy="326.7" r="5.4"/><circle cx="1127.3" cy="335.4" r="5.4"/><circle cx="1130.4" cy="345" r="5.4"/><circle cx="1117.7" cy="371" r="5.4"/><circle cx="1130.8" cy="368.4" r="5.4"/><circle cx="1123.8" cy="375.4" r="5.4"/><circle cx="1122.1" cy="384" r="5.4"/><circle cx="1115.1" cy="389.3" r="5.4"/></g>
<g fill="#e64b35"><circle cx="1139.3" cy="122.8" r="5.4"/><circle cx="1142.7" cy="165.4" r="5.4"/><circle cx="1148.1" cy="186.7" r="5.4"/><circle cx="1135.6" cy="214.3" r="5.4"/><circle cx="1138.5" cy="232.5" r="5.4"/><circle cx="1168" cy="230.5" r="5.4"/><circle cx="1162.6" cy="252.7" r="5.4"/><circle cx="1137.3" cy="270.6" r="5.4"/><circle cx="1180" cy="268.4" r="5.4"/><circle cx="1217" cy="260.1" r="5.4"/><circle cx="1215.3" cy="270.9" r="5.4"/><circle cx="1153.3" cy="297.5" r="5.4"/><circle cx="1145.3" cy="307.8" r="5.4"/><circle cx="1167.9" cy="305.5" r="5.4"/><circle cx="1160.6" cy="364.2" r="5.4"/><circle cx="1135.6" cy="391.5" r="5.4"/><circle cx="1141.9" cy="397.7" r="5.4"/><circle cx="1208.4" cy="449.6" r="5.4"/><circle cx="1134.4" cy="451.9" r="5.4"/><circle cx="1138.8" cy="459.4" r="5.4"/><circle cx="1139.5" cy="470.1" r="5.4"/><circle cx="1146.7" cy="489" r="5.4"/><circle cx="1186.1" cy="493.5" r="5.4"/><circle cx="1154.7" cy="511.7" r="5.4"/><circle cx="1140.6" cy="524.2" r="5.4"/><circle cx="1144" cy="525.4" r="5.4"/><circle cx="1188.8" cy="526.5" r="5.4"/></g>
<g fill="#4dbbd5"><circle cx="829" cy="114.8" r="5.4"/><circle cx="900.5" cy="268.7" r="5.4"/><circle cx="843.2" cy="283" r="5.4"/><circle cx="883" cy="300.5" r="5.4"/><circle cx="897.8" cy="304.6" r="5.4"/><circle cx="909.2" cy="311.9" r="5.4"/><circle cx="865.5" cy="327.8" r="5.4"/><circle cx="914.4" cy="344.4" r="5.4"/><circle cx="895.6" cy="350.8" r="5.4"/><circle cx="846.6" cy="357.4" r="5.4"/><circle cx="911.9" cy="361.7" r="5.4"/><circle cx="912.4" cy="387.4" r="5.4"/><circle cx="921.4" cy="402.8" r="5.4"/><circle cx="923.7" cy="406.8" r="5.4"/><circle cx="911.9" cy="434.6" r="5.4"/><circle cx="907.8" cy="443.7" r="5.4"/><circle cx="924.2" cy="446" r="5.4"/><circle cx="889.1" cy="473.3" r="5.4"/><circle cx="904.4" cy="495.6" r="5.4"/></g>
</g>
<circle cx="764.6" cy="89.1" r="5.4" fill="#4dbbd5" filter="url(#ring)"/><circle cx="764.6" cy="89.1" r="2.7" fill="none" stroke="#000" stroke-width="1.3"/><rect x="770.4" y="78.6" width="86.6" height="21" rx="3" ry="3" fill="#fff" stroke="#8c8c8c" stroke-width="0.9"/><text transform="translate(775.5 94.9) scale(1 1.09)" font-size="15.5" fill="#000">SERPINA3</text>
<line x1="927.9" y1="65.4" x2="927.9" y2="591.3" stroke="#b4b4b4" stroke-width="2.8" stroke-dasharray="17.8 5.95 5.95 5.95" stroke-dashoffset="4"/>
<line x1="1134.5" y1="65.4" x2="1134.5" y2="591.3" stroke="#b4b4b4" stroke-width="2.8" stroke-dasharray="17.8 5.95 5.95 5.95" stroke-dashoffset="4"/>
<line x1="742.2" y1="556.4" x2="1239.6" y2="556.4" stroke="#b4b4b4" stroke-width="2.8" stroke-dasharray="17.8 5.95 5.95 5.95" stroke-dashoffset="24"/>
<rect x="742.2" y="65.4" width="497.4" height="525.9" fill="none" stroke="#4a4a4a" stroke-width="1.05"/>
<g fill="#4d4d4d" font-size="12.3"><line x1="824.6" y1="591.3" x2="824.6" y2="595.3" stroke="#333" stroke-width="1.5"/><text x="824.6" y="607.6" text-anchor="middle">−2</text><line x1="927.9" y1="591.3" x2="927.9" y2="595.3" stroke="#333" stroke-width="1.5"/><text x="927.9" y="607.6" text-anchor="middle">−1</text><line x1="1031.2" y1="591.3" x2="1031.2" y2="595.3" stroke="#333" stroke-width="1.5"/><text x="1031.2" y="607.6" text-anchor="middle">0</text><line x1="1134.5" y1="591.3" x2="1134.5" y2="595.3" stroke="#333" stroke-width="1.5"/><text x="1134.5" y="607.6" text-anchor="middle">1</text><line x1="1237.8" y1="591.3" x2="1237.8" y2="595.3" stroke="#333" stroke-width="1.5"/><text x="1237.8" y="607.6" text-anchor="middle">2</text><line x1="738.2" y1="568.2" x2="742.2" y2="568.2" stroke="#333" stroke-width="1.5"/><text x="734.6" y="572.3" text-anchor="end">0</text><line x1="738.2" y1="386.4" x2="742.2" y2="386.4" stroke="#333" stroke-width="1.5"/><text x="734.6" y="390.5" text-anchor="end">20</text><line x1="738.2" y1="204.6" x2="742.2" y2="204.6" stroke="#333" stroke-width="1.5"/><text x="734.6" y="208.7" text-anchor="end">40</text></g>
<text x="990.9" y="625.5" text-anchor="middle" font-size="15.7">logFC</text>
<text transform="translate(714.3 328) rotate(-90)" text-anchor="middle" font-size="15.7">−log10(P.Value)</text>
<text x="1263.4" y="293.6" font-size="15.4">Significant</text>
<g filter="url(#ring)">
<circle cx="1275" cy="315.6" r="5.4" fill="#4dbbd5"/>
<circle cx="1275" cy="339.6" r="5.4" fill="#7f8985"/>
<circle cx="1275" cy="363.8" r="5.4" fill="#e64b35"/>
</g>
<g font-size="12.3"><text x="1295.4" y="320">Down</text><text x="1295.4" y="344.2">Not</text><text x="1295.4" y="368.3">Up</text></g>
<text transform="translate(703.4 30.8) scale(1 1.15)" font-size="31.3">B</text>
<circle cx="1589" cy="321" r="177" fill="rgb(185,10,230)" fill-opacity="0.25"/>
<circle cx="1765" cy="321" r="177" fill="rgb(20,233,0)" fill-opacity="0.25"/>
<text transform="translate(1505 131) scale(1 1.07)" font-size="24.8" fill="rgb(180,0,230)">VC</text>
<text transform="translate(1811 130.9) scale(1 1.07)" font-size="24.8" fill="rgb(20,230,10)">HF</text>
<g font-size="21.2" text-anchor="middle"><text transform="translate(1531.8 328.6) scale(1 1.05)">37</text><text transform="translate(1677 328.6) scale(1 1.05)">0</text><text transform="translate(1822.4 328.6) scale(1 1.05)">49</text></g>
<text transform="translate(1417.5 29.0) scale(1 1.18)" font-size="33.5">C</text>
</svg></body></html>
